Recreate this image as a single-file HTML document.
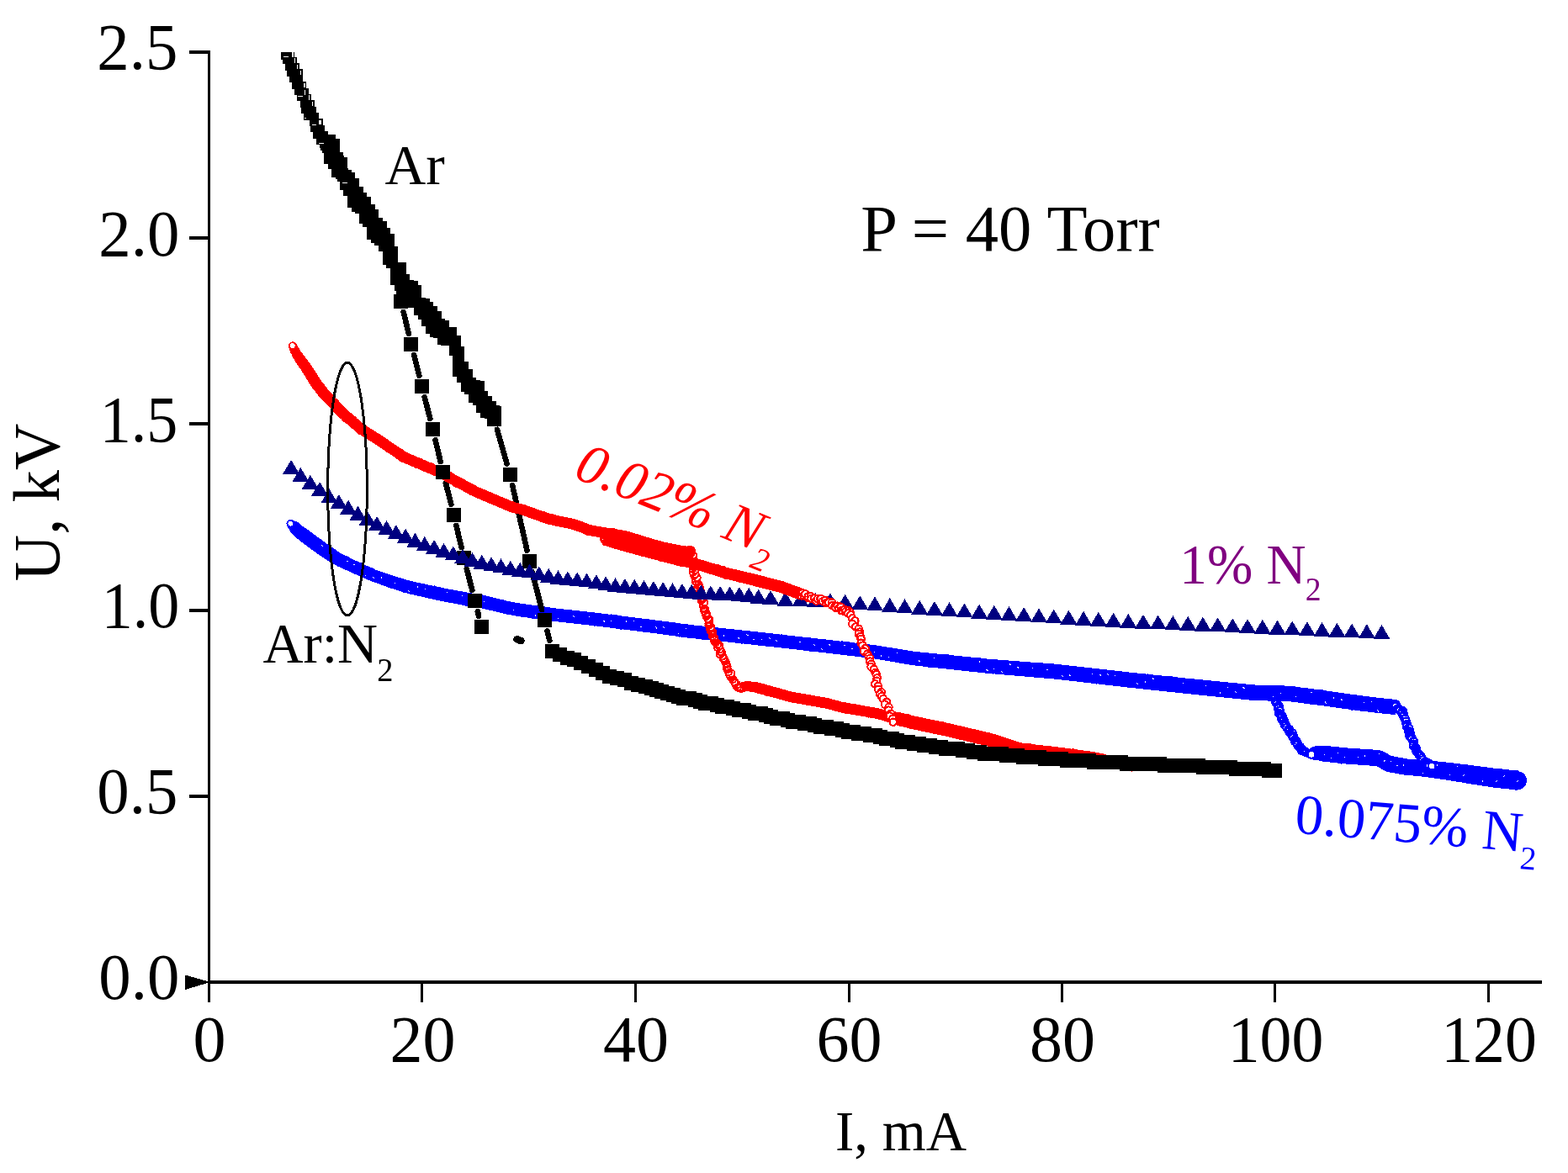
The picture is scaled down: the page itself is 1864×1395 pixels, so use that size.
<!DOCTYPE html>
<html lang="en"><head><meta charset="utf-8"><title>U(I) characteristics, P = 40 Torr</title>
<style>html,body{margin:0;padding:0;background:#fff}svg{display:block}text{font-family:"Liberation Serif",serif;}</style></head><body>
<svg width="1864" height="1395" viewBox="0 0 1864 1395" role="img" aria-label="Voltage versus current, P = 40 Torr">
<rect width="1864" height="1395" fill="#fff"/>
<g shape-rendering="crispEdges">
<g id="blue">
<path fill="#00f" d="M341.8 626.4L343.3 629.1L344.9 631.9L346.6 634.4L349 636.8L351.6 639L353.9 640.9L356.2 642.9L358.6 644.8L361.1 646.6L363.5 648.4L366 650.2L368.4 652L370.8 653.7L373.2 655.5L375.6 657.3L378.1 659.1L380.7 660.9L383.3 662.6L385.9 664.2L388.4 665.8L390.9 667.4L393.5 669L396.5 670.9L399.7 672.3L402.4 673.6L405.1 674.9L407.8 676.2L410.5 677.5L413.2 678.8L416 680.1L418.8 681.4L421.6 682.6L424.4 683.8L427.1 685L429.9 686.2L432.6 687.5L435.3 688.7L438.2 689.9L441.2 691.2L444.2 692.2L447.1 693.2L449.9 694.2L452.7 695.2L455.5 696.3L458.4 697.3L461.3 698.3L464.3 699.3L467.2 700.2L470 701.2L472.9 702.1L475.7 703L478.6 703.9L481.5 704.8L484.7 705.8L487.8 706.5L490.8 707.2L493.7 707.9L496.6 708.6L499.5 709.2L502.5 709.9L505.4 710.6L508.4 711.3L511.3 711.9L514.2 712.6L517.2 713.2L520.1 713.9L523 714.5L526 715.1L529.1 715.7L532.1 716.3L535 716.8L538 717.4L540.9 717.9L543.9 718.5L546.8 719L549.9 719.6L552.9 720.1L555.9 720.5L558.8 721L561.8 721.5L564.7 722L567.7 722.4L570.4 722.9L573 723.5L575.9 724.2L578.8 724.9L581.7 725.6L584.7 726.3L587.6 727L590.5 727.7L593.4 728.4L596.4 729.1L599.5 729.8L602.5 730.5L605.4 731L608.4 731.6L611.4 732.2L614.6 732.8L617.7 733.3L620.7 733.7L623.6 734.1L626.6 734.5L629.6 734.9L632.6 735.3L635.5 735.7L638.5 736.2L641.5 736.6L644.4 737L647.4 737.4L650.4 737.8L653.3 738.2L656.4 738.7L659.5 739L662.5 739.4L665.5 739.7L668.5 740L671.5 740.3L674.4 740.7L677.4 741L680.4 741.3L683.4 741.6L686.4 742L689.4 742.3L692.3 742.6L695.3 742.9L698.3 743.3L701.2 743.6L704.1 744L707.1 744.3L710.1 744.7L713.1 745.1L716.1 745.4L719 745.8L722 746.2L725 746.5L728 746.9L730.9 747.3L733.9 747.7L736.9 748L739.9 748.4L742.8 748.8L745.8 749.1L748.8 749.5L751.8 749.9L754.7 750.2L757.7 750.6L760.7 751L763.7 751.4L766.7 751.7L769.6 752.1L772.6 752.5L775.6 752.9L778.6 753.2L781.5 753.6L784.5 754L787.5 754.3L790.5 754.7L793.4 755.1L796.4 755.5L799.2 755.8L802 756.3L805 756.8L808 757.3L811.2 757.8L814.4 758.1L817.3 758.5L820.3 758.8L823.3 759.1L826.3 759.4L829.3 759.7L832.3 760L835.2 760.4L838.2 760.7L841.2 761L844.2 761.3L847.2 761.6L850.2 761.9L853.1 762.3L856.1 762.6L859.1 762.9L862.1 763.2L865.1 763.5L868.1 763.8L871 764.2L874 764.5L877 764.8L880 765.1L883 765.4L886 765.7L888.9 766.1L891.9 766.4L894.9 766.7L897.9 767L900.8 767.3L903.8 767.7L906.8 768L909.8 768.4L912.7 768.7L915.7 769L918.7 769.4L921.7 769.7L924.7 770L927.7 770.4L930.6 770.7L933.6 771.1L936.6 771.4L939.6 771.7L942.6 772.1L945.5 772.4L948.5 772.7L951.5 773.1L954.5 773.4L957.5 773.7L960.4 774.1L963.4 774.4L966.4 774.8L969.4 775.1L972.4 775.4L975.3 775.8L978.3 776.1L981.3 776.4L984.3 776.8L987.2 777.1L990.2 777.5L993.2 777.8L996.2 778.2L999.2 778.5L1002.1 778.9L1005.1 779.2L1008.1 779.6L1011.1 779.9L1014.1 780.3L1017 780.7L1020 781L1023 781.4L1026 781.7L1029 782.1L1031.9 782.4L1034.9 782.8L1037.8 783.1L1040.5 783.6L1043.4 784.1L1046.4 784.6L1049.3 785.1L1052.3 785.6L1055.2 786.1L1058.2 786.6L1061.2 787.1L1064.1 787.6L1067.1 788.1L1070 788.6L1073 789.1L1075.9 789.6L1078.9 790.1L1081.9 790.7L1085.1 791.2L1088.3 791.5L1091.3 791.9L1094.3 792.2L1097.2 792.5L1100.2 792.8L1103.2 793.2L1106.2 793.5L1109.2 793.8L1112.2 794.1L1115.1 794.5L1118.1 794.8L1121.1 795.1L1124.1 795.4L1127.1 795.8L1130 796.1L1133 796.4L1136 796.7L1139 797.1L1142 797.4L1145 797.7L1147.9 798L1150.9 798.3L1153.9 798.7L1156.9 799L1159.9 799.3L1162.9 799.6L1165.8 800L1168.8 800.3L1171.9 800.6L1175 800.9L1178 801.1L1181 801.4L1184 801.6L1186.9 801.9L1189.9 802.2L1192.9 802.4L1195.9 802.7L1198.9 802.9L1201.9 803.2L1204.9 803.4L1207.9 803.7L1210.9 803.9L1213.8 804.2L1216.8 804.4L1219.8 804.7L1222.8 805L1225.8 805.2L1228.8 805.5L1231.8 805.7L1234.8 806L1237.8 806.2L1240.8 806.5L1243.7 806.7L1246.7 807L1249.7 807.3L1252.7 807.5L1255.6 807.7L1258.5 808L1261.4 808.4L1264.4 808.7L1267.3 809.1L1270.3 809.4L1273.3 809.7L1276.3 810.1L1279.3 810.4L1282.2 810.8L1285.2 811.1L1288.2 811.5L1291.2 811.8L1294.2 812.2L1297.1 812.5L1300.1 812.8L1303.1 813.2L1306.1 813.5L1309.1 813.9L1312 814.2L1315 814.6L1318 814.9L1321 815.3L1324 815.6L1326.9 815.9L1329.9 816.3L1332.9 816.6L1335.9 817L1338.9 817.3L1341.9 817.7L1344.9 818L1347.9 818.3L1350.9 818.6L1353.8 819L1356.8 819.3L1359.8 819.6L1362.8 819.9L1365.8 820.2L1368.8 820.6L1371.7 820.9L1374.7 821.2L1377.7 821.5L1380.7 821.8L1383.7 822.1L1386.7 822.5L1389.6 822.8L1392.6 823.1L1395.6 823.4L1398.6 823.7L1401.6 824.1L1404.6 824.4L1407.6 824.7L1410.6 825L1413.6 825.3L1416.5 825.6L1419.5 825.9L1422.5 826.2L1425.5 826.5L1428.5 826.8L1431.5 827.1L1434.4 827.4L1437.4 827.7L1440.4 828L1443.4 828.3L1446.4 828.6L1449.4 828.9L1452.4 829.2L1455.4 829.5L1458.3 829.8L1461.3 830.1L1464.3 830.4L1467.3 830.7L1470.3 831L1473.3 831.3L1476.3 831.6L1479.2 831.9L1482.2 832.2L1485.2 832.5L1488.4 832.9L1491.7 833L1494.8 833.1L1497.8 833.2L1500.8 833.3L1503.8 833.4L1506.8 833.5L1509.8 833.6L1512.8 833.7L1515.8 833.8L1518.8 833.8L1521.8 833.9L1524.8 834L1527.8 834.1L1530.6 834.2L1533.2 834.3L1535.9 834.7L1538.8 835.1L1541.8 835.4L1544.8 835.8L1547.8 836.2L1550.7 836.6L1553.7 837L1556.7 837.4L1559.7 837.7L1562.6 838.1L1565.6 838.5L1568.6 838.9L1571.6 839.3L1574.5 839.6L1577.4 840L1580.4 840.4L1583.4 840.9L1586.3 841.3L1589.3 841.7L1592.3 842.1L1595.3 842.5L1598.2 842.9L1601.2 843.3L1604.2 843.7L1607.1 844.1L1610.1 844.5L1613.1 844.9L1616.1 845.4L1619.2 845.8L1622.2 846.1L1625.2 846.4L1628.2 846.8L1631.2 847.1L1634.2 847.5L1637.1 847.8L1640.1 848.1L1643.1 848.5L1646.1 848.8L1649.2 849.2L1652.3 849.4L1655.4 849.7L1658.4 849.9L1659.3 850L1660.7 832L1659.8 832L1656.8 831.7L1653.8 831.5L1651 831.2L1648.1 830.9L1645.2 830.5L1642.2 830.2L1639.2 829.8L1636.2 829.5L1633.3 829.1L1630.3 828.8L1627.3 828.4L1624.3 828.1L1621.4 827.7L1618.5 827.4L1615.6 827L1612.6 826.5L1609.7 826.1L1606.7 825.7L1603.7 825.3L1600.7 824.9L1597.8 824.4L1594.8 824L1591.8 823.6L1588.9 823.2L1585.9 822.8L1582.9 822.3L1580 821.9L1576.9 821.5L1573.9 821.1L1571 820.7L1568 820.3L1565 819.9L1562 819.5L1559.1 819.1L1556.1 818.7L1553.1 818.3L1550.1 817.9L1547.2 817.6L1544.2 817.2L1541.2 816.8L1538.2 816.4L1535 815.9L1531.5 815.7L1528.4 815.6L1525.4 815.5L1522.4 815.4L1519.4 815.3L1516.4 815.2L1513.4 815.1L1510.4 815L1507.4 814.9L1504.4 814.8L1501.4 814.7L1498.4 814.7L1495.4 814.6L1492.5 814.5L1489.8 814.4L1487 814.1L1484 813.8L1481.1 813.5L1478.1 813.2L1475.1 812.9L1472.1 812.6L1469.1 812.3L1466.1 812L1463.1 811.8L1460.2 811.5L1457.2 811.2L1454.2 810.9L1451.2 810.6L1448.2 810.3L1445.2 810L1442.3 809.7L1439.3 809.4L1436.3 809.1L1433.3 808.8L1430.3 808.5L1427.3 808.2L1424.4 807.9L1421.4 807.6L1418.4 807.3L1415.4 807L1412.4 806.8L1409.4 806.5L1406.4 806.2L1403.5 805.9L1400.5 805.6L1397.5 805.3L1394.5 804.9L1391.6 804.6L1388.6 804.3L1385.6 804L1382.6 803.7L1379.6 803.4L1376.6 803.1L1373.7 802.8L1370.7 802.5L1367.7 802.2L1364.7 801.8L1361.7 801.5L1358.7 801.2L1355.7 800.9L1352.8 800.6L1349.8 800.3L1346.8 800L1343.9 799.7L1340.9 799.3L1337.9 799L1334.9 798.7L1332 798.3L1329 798L1326 797.7L1323 797.3L1320 797L1317.1 796.7L1314.1 796.3L1311.1 796L1308.1 795.7L1305.1 795.3L1302.2 795L1299.2 794.7L1296.2 794.3L1293.2 794L1290.2 793.7L1287.2 793.3L1284.3 793L1281.3 792.6L1278.3 792.3L1275.3 792L1272.3 791.6L1269.4 791.3L1266.4 791L1263.4 790.6L1260.3 790.3L1257.2 790L1254.2 789.8L1251.2 789.5L1248.2 789.3L1245.2 789L1242.2 788.8L1239.2 788.6L1236.2 788.4L1233.2 788.1L1230.2 787.9L1227.2 787.7L1224.2 787.4L1221.3 787.2L1218.3 787L1215.3 786.7L1212.3 786.5L1209.3 786.3L1206.3 786L1203.3 785.8L1200.3 785.6L1197.3 785.3L1194.3 785.1L1191.3 784.9L1188.3 784.7L1185.4 784.4L1182.4 784.2L1179.4 784L1176.4 783.7L1173.5 783.5L1170.6 783.2L1167.6 782.9L1164.6 782.6L1161.7 782.3L1158.7 782L1155.7 781.7L1152.7 781.4L1149.7 781.1L1146.7 780.8L1143.7 780.5L1140.8 780.2L1137.8 779.9L1134.8 779.6L1131.8 779.3L1128.8 779L1125.8 778.7L1122.8 778.4L1119.9 778.1L1116.9 777.8L1113.9 777.5L1110.9 777.2L1107.9 776.9L1104.9 776.6L1102 776.3L1099 776L1096 775.7L1093 775.4L1090 775.1L1087.3 774.8L1084.6 774.4L1081.6 773.9L1078.6 773.4L1075.7 773L1072.7 772.5L1069.8 772L1066.8 771.5L1063.8 771L1060.9 770.5L1057.9 770.1L1055 769.6L1052 769.1L1049 768.6L1046.1 768.1L1043 767.6L1039.9 767.2L1036.8 766.8L1033.8 766.5L1030.8 766.2L1027.8 765.8L1024.8 765.5L1021.9 765.2L1018.9 764.8L1015.9 764.5L1012.9 764.2L1009.9 763.8L1007 763.5L1004 763.2L1001 762.8L998 762.5L995 762.1L992 761.8L989.1 761.4L986.1 761.1L983.1 760.8L980.1 760.4L977.1 760.1L974.1 759.7L971.2 759.4L968.2 759.1L965.2 758.7L962.2 758.4L959.2 758.1L956.3 757.7L953.3 757.4L950.3 757.1L947.3 756.7L944.3 756.4L941.3 756.1L938.4 755.7L935.4 755.4L932.4 755L929.4 754.7L926.4 754.4L923.5 754L920.5 753.7L917.5 753.4L914.5 753L911.5 752.7L908.6 752.4L905.6 752L902.6 751.7L899.6 751.4L896.6 751L893.6 750.7L890.6 750.4L887.6 750.1L884.6 749.8L881.7 749.5L878.7 749.1L875.7 748.8L872.7 748.5L869.7 748.2L866.7 747.9L863.8 747.6L860.8 747.3L857.8 746.9L854.8 746.6L851.8 746.3L848.8 746L845.9 745.7L842.9 745.4L839.9 745L836.9 744.7L833.9 744.4L830.9 744.1L828 743.8L825 743.5L822 743.2L819 742.8L816 742.5L813.3 742.2L810.5 741.8L807.6 741.3L804.6 740.8L801.5 740.3L798.4 739.9L795.4 739.5L792.4 739.1L789.4 738.8L786.5 738.4L783.5 738L780.5 737.7L777.5 737.3L774.6 736.9L771.6 736.5L768.6 736.2L765.6 735.8L762.6 735.4L759.7 735.1L756.7 734.7L753.7 734.3L750.7 733.9L747.8 733.6L744.8 733.2L741.8 732.8L738.8 732.5L735.8 732.1L732.9 731.7L729.9 731.4L726.9 731L723.9 730.6L721 730.3L718 729.9L715 729.5L712 729.2L709 728.8L706.1 728.4L703.1 728.1L700 727.7L697 727.4L694 727.1L691.1 726.7L688.1 726.4L685.1 726.1L682.1 725.8L679.1 725.4L676.1 725.1L673.2 724.8L670.2 724.5L667.2 724.1L664.2 723.8L661.3 723.5L658.4 723.2L655.5 722.8L652.5 722.3L649.6 721.9L646.6 721.5L643.6 721.1L640.7 720.7L637.7 720.3L634.7 719.9L631.7 719.5L628.8 719L625.8 718.6L622.8 718.2L619.9 717.8L617 717.4L614.3 716.9L611.4 716.3L608.5 715.7L605.6 715.2L602.7 714.6L599.9 714L597.1 713.3L594.2 712.5L591.3 711.8L588.3 711.1L585.4 710.4L582.5 709.7L579.6 709L576.7 708.3L573.5 707.5L570.2 707L567.3 706.5L564.3 706L561.3 705.5L558.4 705L555.4 704.5L552.5 704.1L549.7 703.5L546.7 703L543.8 702.4L540.8 701.9L537.9 701.3L534.9 700.8L532 700.2L529.2 699.7L526.3 699.1L523.4 698.4L520.5 697.8L517.5 697.2L514.6 696.6L511.6 696L508.7 695.4L505.8 694.8L502.9 694.1L500 693.5L497 692.9L494.1 692.3L491.2 691.6L488.5 691.1L485.9 690.3L483.1 689.5L480.2 688.6L477.3 687.7L474.5 686.9L471.6 686L468.8 685.1L466 684.3L463.3 683.3L460.5 682.4L457.6 681.4L454.8 680.4L452 679.4L449.1 678.4L446.5 677.5L444 676.4L441.4 675.2L438.6 673.9L435.9 672.7L433.2 671.5L430.4 670.2L427.7 669L425.1 667.8L422.5 666.5L419.8 665.2L417.1 663.9L414.4 662.6L411.7 661.2L409 659.9L406.3 658.6L404.1 657.4L402 656L399.6 654.3L397.2 652.6L394.7 650.9L392.2 649.2L389.9 647.6L387.6 645.9L385.2 644.2L382.8 642.4L380.4 640.6L377.9 638.9L375.5 637.1L373.1 635.3L370.7 633.6L368.3 631.9L366 630.1L363.6 628.4L361.1 626.7L359 625.2L357 623.5L354.4 621.8L351.6 620.4L348.8 619z"/>
<path fill="#00f" d="M1561.5 904.4L1564.4 903.8L1566.1 903.5L1567 904.1L1569.3 904.9L1572.2 905.5L1575.2 905.8L1578.2 906.2L1581.2 906.5L1584.2 906.8L1587.1 907.2L1590.1 907.5L1593.1 907.8L1596.2 908.2L1599.4 908.4L1602.4 908.6L1605.4 908.9L1608.4 909.1L1611.4 909.3L1614.4 909.5L1617.4 909.7L1620.4 910L1623.4 910.2L1626.3 910.4L1629.2 910.6L1632.1 910.9L1635.1 911.2L1636.7 911.3L1637.5 911.7L1639.4 912.8L1642 914.4L1645.1 916.1L1649.4 918L1653.5 918.8L1656.5 919.3L1659.4 919.8L1662.4 920.3L1665.3 920.9L1668.3 921.4L1671.7 922L1675.2 922.2L1678.2 922.4L1681.2 922.6L1684.2 922.9L1687.1 923.1L1689.8 923.3L1692.6 923.7L1695.6 924.2L1698.6 924.6L1701.5 925L1704.5 925.5L1707.5 925.9L1710.4 926.3L1713.4 926.8L1716.4 927.2L1719.4 927.6L1722.2 928L1725.1 928.5L1728 929L1731 929.5L1733.9 929.9L1736.9 930.4L1739.8 930.9L1742.8 931.4L1745.8 931.9L1748.7 932.4L1751.7 932.8L1754.7 933.3L1757.6 933.8L1760.6 934.3L1763.5 934.7L1766.5 935.2L1769.5 935.6L1772.4 936.1L1775.4 936.5L1778.7 937L1782 937.3L1784.9 937.6L1787.9 937.9L1790.9 938.2L1793.9 938.5L1796.9 938.8L1799.9 939L1802.9 939.3L1803.9 939.4L1806.1 916.6L1805 916.5L1802 916.2L1799 915.9L1796 915.7L1793 915.4L1790 915.2L1787 914.9L1784 914.6L1781.3 914.4L1778.7 914L1775.7 913.6L1772.7 913.2L1769.7 912.8L1766.8 912.4L1763.8 912L1760.8 911.6L1757.9 911.2L1754.9 910.8L1751.9 910.5L1748.9 910.1L1745.9 909.7L1743 909.3L1740 909L1737 908.6L1734 908.2L1731.1 907.8L1728.1 907.5L1725 907.1L1721.9 906.8L1718.9 906.5L1715.9 906.2L1712.9 905.9L1709.9 905.6L1706.9 905.3L1703.9 905L1701 904.8L1698 904.5L1695 904.2L1691.8 903.9L1688.6 903.6L1685.5 903.4L1682.5 903.2L1679.5 903L1676.5 902.8L1674 902.7L1671.6 902.2L1668.6 901.7L1665.7 901.2L1662.7 900.7L1659.7 900.2L1656.8 899.7L1655 899.5L1653.9 898.9L1651.8 897.7L1649.2 896.2L1646 894.3L1641.3 892.5L1636.9 892L1634 891.7L1630.8 891.4L1627.7 891.2L1624.7 891L1621.7 890.8L1618.7 890.6L1615.7 890.4L1612.8 890.2L1609.8 890L1606.8 889.8L1603.8 889.6L1600.8 889.4L1598 889.1L1595.2 888.8L1592.2 888.5L1589.2 888.2L1586.2 887.9L1583.2 887.6L1580.2 887.3L1577.3 886.9L1574.3 886.6L1571.3 886.6L1567.5 886.8L1562.6 887.6L1558.7 889.6L1556.1 891.2z"/>
<circle cx="1804" cy="928.3" r="11" fill="#00f"/>
<g fill="none" stroke="#00f" stroke-width="2">
<circle cx="345.9" cy="622.9" r="3.9"/><circle cx="346.6" cy="624.5" r="3.9"/><circle cx="347.5" cy="625" r="3.9"/><circle cx="349.9" cy="624.4" r="3.9"/><circle cx="351.4" cy="625.2" r="3.9"/><circle cx="353" cy="626.4" r="3.9"/><circle cx="351.8" cy="628.2" r="3.9"/><circle cx="354.9" cy="628.5" r="3.9"/><circle cx="352.9" cy="631.2" r="3.9"/><circle cx="355" cy="632.4" r="3.9"/><circle cx="354.9" cy="635.9" r="3.9"/><circle cx="356.2" cy="636" r="3.9"/><circle cx="360.8" cy="633" r="3.9"/><circle cx="360.4" cy="634.2" r="3.9"/><circle cx="362.5" cy="634.5" r="3.9"/><circle cx="361.8" cy="638.4" r="3.9"/><circle cx="363.8" cy="639" r="3.9"/><circle cx="367" cy="636.8" r="3.9"/><circle cx="365.2" cy="641.3" r="3.9"/><circle cx="367.8" cy="639.8" r="3.9"/><circle cx="368.8" cy="641.8" r="3.9"/><circle cx="367.9" cy="644.4" r="3.9"/><circle cx="371.8" cy="642" r="3.9"/><circle cx="371.3" cy="644.3" r="3.9"/><circle cx="372.4" cy="647" r="3.9"/><circle cx="372.7" cy="649.6" r="3.9"/><circle cx="375.6" cy="646.4" r="3.9"/><circle cx="378.4" cy="645.9" r="3.9"/><circle cx="379.8" cy="646" r="3.9"/><circle cx="377.9" cy="651.4" r="3.9"/><circle cx="379" cy="653.2" r="3.9"/><circle cx="380.6" cy="652.7" r="3.9"/><circle cx="382.5" cy="653" r="3.9"/><circle cx="382" cy="655.1" r="3.9"/><circle cx="385.2" cy="653.9" r="3.9"/><circle cx="388.1" cy="652.1" r="3.9"/><circle cx="386.5" cy="656.4" r="3.9"/><circle cx="388" cy="658.9" r="3.9"/><circle cx="390.5" cy="656.7" r="3.9"/><circle cx="393.5" cy="655.5" r="3.9"/><circle cx="394.6" cy="657.6" r="3.9"/><circle cx="395.4" cy="657.2" r="3.9"/><circle cx="397.1" cy="658.9" r="3.9"/><circle cx="396.5" cy="660.7" r="3.9"/><circle cx="399.5" cy="660.1" r="3.9"/><circle cx="398.3" cy="663.3" r="3.9"/><circle cx="398.7" cy="665.8" r="3.9"/><circle cx="402.4" cy="663.5" r="3.9"/><circle cx="402.9" cy="664.3" r="3.9"/><circle cx="403.5" cy="669.1" r="3.9"/><circle cx="407" cy="665" r="3.9"/><circle cx="407.8" cy="665.8" r="3.9"/><circle cx="408.5" cy="668.8" r="3.9"/><circle cx="411.3" cy="665.9" r="3.9"/><circle cx="411.4" cy="668.6" r="3.9"/><circle cx="410.9" cy="672.5" r="3.9"/><circle cx="413.6" cy="670.7" r="3.9"/><circle cx="415.3" cy="672.7" r="3.9"/><circle cx="415" cy="674.1" r="3.9"/><circle cx="416.4" cy="674.6" r="3.9"/><circle cx="419.7" cy="672.7" r="3.9"/><circle cx="421.5" cy="671.6" r="3.9"/><circle cx="423.7" cy="672.3" r="3.9"/><circle cx="424.5" cy="673.7" r="3.9"/><circle cx="425.7" cy="675.2" r="3.9"/><circle cx="427.8" cy="673.8" r="3.9"/><circle cx="428.6" cy="674.8" r="3.9"/><circle cx="429.4" cy="674.7" r="3.9"/><circle cx="430.4" cy="679.1" r="3.9"/><circle cx="432.4" cy="677.6" r="3.9"/><circle cx="433.8" cy="679" r="3.9"/><circle cx="432.6" cy="681.7" r="3.9"/><circle cx="435.7" cy="680.5" r="3.9"/><circle cx="438.6" cy="679.2" r="3.9"/><circle cx="439.1" cy="681.2" r="3.9"/><circle cx="439.4" cy="684.6" r="3.9"/><circle cx="441.6" cy="680.2" r="3.9"/><circle cx="442.9" cy="684.1" r="3.9"/><circle cx="444.5" cy="684.8" r="3.9"/><circle cx="444.5" cy="684.7" r="3.9"/><circle cx="445.7" cy="687.3" r="3.9"/><circle cx="448.8" cy="684.5" r="3.9"/><circle cx="449.8" cy="684.3" r="3.9"/><circle cx="450.4" cy="686.8" r="3.9"/><circle cx="453.1" cy="686.5" r="3.9"/><circle cx="452.4" cy="689.3" r="3.9"/><circle cx="454" cy="690.2" r="3.9"/><circle cx="455.6" cy="690.5" r="3.9"/><circle cx="458.5" cy="687.7" r="3.9"/><circle cx="460.4" cy="689.2" r="3.9"/><circle cx="462.1" cy="687.7" r="3.9"/><circle cx="462.5" cy="689.3" r="3.9"/><circle cx="462.8" cy="694" r="3.9"/><circle cx="463.5" cy="694.1" r="3.9"/><circle cx="465.9" cy="695" r="3.9"/><circle cx="468.9" cy="691.1" r="3.9"/><circle cx="470.4" cy="691.4" r="3.9"/><circle cx="470" cy="694.1" r="3.9"/><circle cx="471.6" cy="696.1" r="3.9"/><circle cx="472.9" cy="695.3" r="3.9"/><circle cx="475.7" cy="692.3" r="3.9"/><circle cx="475.3" cy="697.7" r="3.9"/><circle cx="477.5" cy="697.4" r="3.9"/><circle cx="479.6" cy="694.1" r="3.9"/><circle cx="480.7" cy="695.5" r="3.9"/><circle cx="481.5" cy="700.1" r="3.9"/><circle cx="483.2" cy="696.8" r="3.9"/><circle cx="485.2" cy="699.6" r="3.9"/><circle cx="487.7" cy="696.2" r="3.9"/><circle cx="487" cy="701.3" r="3.9"/><circle cx="489.5" cy="696.7" r="3.9"/><circle cx="490" cy="702.5" r="3.9"/><circle cx="492.6" cy="698.7" r="3.9"/><circle cx="495.2" cy="697.8" r="3.9"/><circle cx="494.4" cy="703.5" r="3.9"/><circle cx="496.1" cy="700.7" r="3.9"/><circle cx="497.8" cy="700.5" r="3.9"/><circle cx="499.7" cy="703.7" r="3.9"/><circle cx="501.9" cy="700.1" r="3.9"/><circle cx="502.9" cy="700.2" r="3.9"/><circle cx="504.6" cy="700.8" r="3.9"/><circle cx="505.5" cy="700" r="3.9"/><circle cx="507.4" cy="702" r="3.9"/><circle cx="507.8" cy="703.8" r="3.9"/><circle cx="509.5" cy="703" r="3.9"/><circle cx="511.4" cy="704" r="3.9"/><circle cx="513.7" cy="704.6" r="3.9"/><circle cx="515" cy="704.3" r="3.9"/><circle cx="516.1" cy="701.3" r="3.9"/><circle cx="517.9" cy="702.9" r="3.9"/><circle cx="518.4" cy="707.1" r="3.9"/><circle cx="520.5" cy="704.6" r="3.9"/><circle cx="521.2" cy="706.4" r="3.9"/><circle cx="523.7" cy="703.7" r="3.9"/><circle cx="525.4" cy="705.1" r="3.9"/><circle cx="525.7" cy="709" r="3.9"/><circle cx="527.1" cy="707.7" r="3.9"/><circle cx="528.6" cy="710.6" r="3.9"/><circle cx="530.4" cy="708.8" r="3.9"/><circle cx="531.7" cy="708.3" r="3.9"/><circle cx="533.5" cy="708.2" r="3.9"/><circle cx="534.3" cy="708.5" r="3.9"/><circle cx="535.6" cy="710.4" r="3.9"/><circle cx="537.7" cy="712.5" r="3.9"/><circle cx="538.6" cy="709.9" r="3.9"/><circle cx="541" cy="712.4" r="3.9"/><circle cx="542.9" cy="707.5" r="3.9"/><circle cx="544.8" cy="707.5" r="3.9"/><circle cx="545.6" cy="707.7" r="3.9"/><circle cx="545.8" cy="712.9" r="3.9"/><circle cx="548.4" cy="708.8" r="3.9"/><circle cx="550.1" cy="712.8" r="3.9"/><circle cx="550" cy="714.4" r="3.9"/><circle cx="552.3" cy="710" r="3.9"/><circle cx="554.3" cy="711.6" r="3.9"/><circle cx="554.6" cy="715.9" r="3.9"/><circle cx="557.6" cy="710.4" r="3.9"/><circle cx="558.8" cy="713.2" r="3.9"/><circle cx="560.7" cy="711.2" r="3.9"/><circle cx="562.1" cy="715.2" r="3.9"/><circle cx="563.1" cy="714.1" r="3.9"/><circle cx="565.3" cy="710.7" r="3.9"/><circle cx="565.8" cy="715.1" r="3.9"/><circle cx="567.2" cy="711.3" r="3.9"/><circle cx="567.9" cy="716.6" r="3.9"/><circle cx="571.3" cy="712.2" r="3.9"/><circle cx="572.1" cy="711.9" r="3.9"/><circle cx="574.3" cy="714.1" r="3.9"/><circle cx="574.3" cy="715.2" r="3.9"/><circle cx="576.1" cy="718.5" r="3.9"/><circle cx="577.7" cy="714" r="3.9"/><circle cx="578.8" cy="717.4" r="3.9"/><circle cx="582" cy="714.7" r="3.9"/><circle cx="581.9" cy="719" r="3.9"/><circle cx="583.6" cy="714.9" r="3.9"/><circle cx="584.3" cy="719.2" r="3.9"/><circle cx="586.6" cy="715.7" r="3.9"/><circle cx="588.1" cy="716" r="3.9"/><circle cx="589.7" cy="719.2" r="3.9"/><circle cx="590.1" cy="720" r="3.9"/><circle cx="593.3" cy="718.7" r="3.9"/><circle cx="594.2" cy="720.8" r="3.9"/><circle cx="596.4" cy="718.3" r="3.9"/><circle cx="597.9" cy="718.2" r="3.9"/><circle cx="598.8" cy="720.3" r="3.9"/><circle cx="599.5" cy="723.8" r="3.9"/><circle cx="601.6" cy="722.3" r="3.9"/><circle cx="603.5" cy="721.6" r="3.9"/><circle cx="605.1" cy="721.2" r="3.9"/><circle cx="605.1" cy="724.7" r="3.9"/><circle cx="607.4" cy="721.3" r="3.9"/><circle cx="608.5" cy="726.8" r="3.9"/><circle cx="609.6" cy="726.2" r="3.9"/><circle cx="610.9" cy="724.1" r="3.9"/><circle cx="613" cy="723.8" r="3.9"/><circle cx="613.3" cy="726" r="3.9"/><circle cx="615.4" cy="723.9" r="3.9"/><circle cx="616.9" cy="726.7" r="3.9"/><circle cx="619.1" cy="724.9" r="3.9"/><circle cx="621.3" cy="722.7" r="3.9"/><circle cx="621.8" cy="722.9" r="3.9"/><circle cx="624" cy="724.5" r="3.9"/><circle cx="624.6" cy="723.4" r="3.9"/><circle cx="625.6" cy="729.1" r="3.9"/><circle cx="628.3" cy="725.3" r="3.9"/><circle cx="629.4" cy="725.5" r="3.9"/><circle cx="631.1" cy="724.8" r="3.9"/><circle cx="631.6" cy="725.6" r="3.9"/><circle cx="633.1" cy="730.9" r="3.9"/><circle cx="634.6" cy="725.9" r="3.9"/><circle cx="637" cy="726.7" r="3.9"/><circle cx="638.8" cy="724.8" r="3.9"/><circle cx="639.6" cy="728.3" r="3.9"/><circle cx="641.3" cy="726.6" r="3.9"/><circle cx="643.4" cy="725.5" r="3.9"/><circle cx="644.6" cy="726.2" r="3.9"/><circle cx="646.7" cy="726.2" r="3.9"/><circle cx="647.6" cy="728.2" r="3.9"/><circle cx="648.4" cy="730.3" r="3.9"/><circle cx="649.5" cy="731.6" r="3.9"/><circle cx="650.6" cy="731.5" r="3.9"/><circle cx="653.3" cy="729.6" r="3.9"/><circle cx="654.5" cy="734" r="3.9"/><circle cx="655.5" cy="732.2" r="3.9"/><circle cx="657.3" cy="727.7" r="3.9"/><circle cx="658.4" cy="733.8" r="3.9"/><circle cx="659.7" cy="732.8" r="3.9"/><circle cx="662.1" cy="728.9" r="3.9"/><circle cx="662.8" cy="731.6" r="3.9"/><circle cx="664.1" cy="733.8" r="3.9"/><circle cx="665.7" cy="732.4" r="3.9"/><circle cx="667.4" cy="733.3" r="3.9"/><circle cx="670.3" cy="730.4" r="3.9"/><circle cx="671.3" cy="729.9" r="3.9"/><circle cx="672.1" cy="729.7" r="3.9"/><circle cx="673.6" cy="733.1" r="3.9"/><circle cx="674.9" cy="733.7" r="3.9"/><circle cx="677.6" cy="733.1" r="3.9"/><circle cx="677.7" cy="735.3" r="3.9"/><circle cx="679.7" cy="733.4" r="3.9"/><circle cx="681.8" cy="734.7" r="3.9"/><circle cx="683" cy="735.4" r="3.9"/><circle cx="684.9" cy="730.9" r="3.9"/><circle cx="686" cy="735.7" r="3.9"/><circle cx="686.3" cy="735.8" r="3.9"/><circle cx="688.9" cy="734.3" r="3.9"/><circle cx="689.9" cy="734.3" r="3.9"/><circle cx="691.3" cy="736.5" r="3.9"/><circle cx="693.7" cy="735.9" r="3.9"/><circle cx="695.3" cy="732.6" r="3.9"/><circle cx="696.3" cy="736.9" r="3.9"/><circle cx="698.4" cy="735.9" r="3.9"/><circle cx="699.9" cy="732.5" r="3.9"/><circle cx="700.2" cy="736.8" r="3.9"/><circle cx="702.3" cy="737.1" r="3.9"/><circle cx="703.7" cy="736.1" r="3.9"/><circle cx="705.7" cy="736" r="3.9"/><circle cx="706.7" cy="739.2" r="3.9"/><circle cx="707" cy="739.8" r="3.9"/><circle cx="710.1" cy="733.4" r="3.9"/><circle cx="710" cy="739.1" r="3.9"/><circle cx="713" cy="736.8" r="3.9"/><circle cx="713.6" cy="735.2" r="3.9"/><circle cx="715.6" cy="735.4" r="3.9"/><circle cx="717.3" cy="735.2" r="3.9"/><circle cx="718.7" cy="741.1" r="3.9"/><circle cx="719.7" cy="740.3" r="3.9"/><circle cx="720.8" cy="740.9" r="3.9"/><circle cx="722.6" cy="736.4" r="3.9"/><circle cx="725.2" cy="738.6" r="3.9"/><circle cx="726.4" cy="735.3" r="3.9"/><circle cx="727.8" cy="738.7" r="3.9"/><circle cx="729.5" cy="736.7" r="3.9"/><circle cx="730" cy="738" r="3.9"/><circle cx="731.9" cy="736" r="3.9"/><circle cx="733.7" cy="742.1" r="3.9"/><circle cx="734.2" cy="742.8" r="3.9"/><circle cx="736.4" cy="742.9" r="3.9"/><circle cx="738.1" cy="739.4" r="3.9"/><circle cx="738.8" cy="743.9" r="3.9"/><circle cx="741.1" cy="739.6" r="3.9"/><circle cx="743.2" cy="739.3" r="3.9"/><circle cx="743.6" cy="738.1" r="3.9"/><circle cx="744.8" cy="739.6" r="3.9"/><circle cx="747.4" cy="739.6" r="3.9"/><circle cx="748.8" cy="741.7" r="3.9"/><circle cx="749.2" cy="740.7" r="3.9"/><circle cx="750.4" cy="744.5" r="3.9"/><circle cx="752" cy="742.9" r="3.9"/><circle cx="753.8" cy="745.4" r="3.9"/><circle cx="756.2" cy="744.1" r="3.9"/><circle cx="757.1" cy="744.3" r="3.9"/><circle cx="758.2" cy="744.6" r="3.9"/><circle cx="761.1" cy="741.6" r="3.9"/><circle cx="761.9" cy="746.3" r="3.9"/><circle cx="763.4" cy="743.2" r="3.9"/><circle cx="764.4" cy="742.1" r="3.9"/><circle cx="766.1" cy="747.2" r="3.9"/><circle cx="767.8" cy="745.1" r="3.9"/><circle cx="769.2" cy="744.6" r="3.9"/><circle cx="771.4" cy="742.1" r="3.9"/><circle cx="771.7" cy="742.4" r="3.9"/><circle cx="774" cy="744.7" r="3.9"/><circle cx="773.9" cy="747.6" r="3.9"/><circle cx="777.2" cy="744.8" r="3.9"/><circle cx="779" cy="743.2" r="3.9"/><circle cx="780.3" cy="744.4" r="3.9"/><circle cx="781.6" cy="743.8" r="3.9"/><circle cx="781.8" cy="746.2" r="3.9"/><circle cx="783.9" cy="747.8" r="3.9"/><circle cx="785.5" cy="745.6" r="3.9"/><circle cx="787.3" cy="745.5" r="3.9"/><circle cx="789.2" cy="743.5" r="3.9"/><circle cx="790.1" cy="750.1" r="3.9"/><circle cx="791.2" cy="746.9" r="3.9"/><circle cx="793.1" cy="749.7" r="3.9"/><circle cx="795" cy="745.7" r="3.9"/><circle cx="796.1" cy="746.8" r="3.9"/><circle cx="796.4" cy="750.8" r="3.9"/><circle cx="799.3" cy="750.6" r="3.9"/><circle cx="800.5" cy="744.7" r="3.9"/><circle cx="801.4" cy="751.1" r="3.9"/><circle cx="804" cy="749.3" r="3.9"/><circle cx="804.3" cy="747.9" r="3.9"/><circle cx="805.3" cy="751.2" r="3.9"/><circle cx="807.6" cy="752.7" r="3.9"/><circle cx="810.3" cy="746.9" r="3.9"/><circle cx="810.4" cy="749.9" r="3.9"/><circle cx="811.4" cy="753.1" r="3.9"/><circle cx="813.2" cy="751.2" r="3.9"/><circle cx="815.1" cy="750" r="3.9"/><circle cx="816.6" cy="747.2" r="3.9"/><circle cx="817.7" cy="748.7" r="3.9"/><circle cx="819.9" cy="751.9" r="3.9"/><circle cx="821.8" cy="748.4" r="3.9"/><circle cx="822.2" cy="752.1" r="3.9"/><circle cx="825.1" cy="748.6" r="3.9"/><circle cx="825.5" cy="751.6" r="3.9"/><circle cx="827.7" cy="750.9" r="3.9"/><circle cx="829.3" cy="752.6" r="3.9"/><circle cx="830.3" cy="750.5" r="3.9"/><circle cx="831" cy="755.3" r="3.9"/><circle cx="832.8" cy="755" r="3.9"/><circle cx="835.2" cy="750.6" r="3.9"/><circle cx="835.4" cy="755.8" r="3.9"/><circle cx="838.5" cy="751.4" r="3.9"/><circle cx="838.8" cy="752.8" r="3.9"/><circle cx="841" cy="752.5" r="3.9"/><circle cx="841.2" cy="754.3" r="3.9"/><circle cx="844.5" cy="751.5" r="3.9"/><circle cx="845.3" cy="752.4" r="3.9"/><circle cx="846.9" cy="755" r="3.9"/><circle cx="847.4" cy="755.9" r="3.9"/><circle cx="850" cy="754.1" r="3.9"/><circle cx="850.9" cy="757.5" r="3.9"/><circle cx="852.7" cy="756.6" r="3.9"/><circle cx="853.8" cy="752.4" r="3.9"/><circle cx="854.9" cy="753.1" r="3.9"/><circle cx="857.5" cy="754.8" r="3.9"/><circle cx="858.8" cy="753" r="3.9"/><circle cx="859.1" cy="756.2" r="3.9"/><circle cx="861.9" cy="752.7" r="3.9"/><circle cx="862.4" cy="753.3" r="3.9"/><circle cx="865.4" cy="753.1" r="3.9"/><circle cx="866.4" cy="752.6" r="3.9"/><circle cx="866.5" cy="758.6" r="3.9"/><circle cx="867.9" cy="757.6" r="3.9"/><circle cx="870.3" cy="759.3" r="3.9"/><circle cx="871.4" cy="754" r="3.9"/><circle cx="873.9" cy="758.3" r="3.9"/><circle cx="874.9" cy="757.8" r="3.9"/><circle cx="876.7" cy="755.9" r="3.9"/><circle cx="878.9" cy="754.7" r="3.9"/><circle cx="879.7" cy="755.6" r="3.9"/><circle cx="881.1" cy="760.6" r="3.9"/><circle cx="882.4" cy="760.8" r="3.9"/><circle cx="883.4" cy="756.5" r="3.9"/><circle cx="885.2" cy="760.1" r="3.9"/><circle cx="887.2" cy="754.7" r="3.9"/><circle cx="887.7" cy="757.1" r="3.9"/><circle cx="890.2" cy="756.1" r="3.9"/><circle cx="891.7" cy="761.3" r="3.9"/><circle cx="892.3" cy="757.9" r="3.9"/><circle cx="894.8" cy="760.7" r="3.9"/><circle cx="896.8" cy="755.6" r="3.9"/><circle cx="897.3" cy="762" r="3.9"/><circle cx="897.9" cy="760.9" r="3.9"/><circle cx="900.7" cy="758.2" r="3.9"/><circle cx="901.2" cy="762.7" r="3.9"/><circle cx="903" cy="758" r="3.9"/><circle cx="905.2" cy="758.6" r="3.9"/><circle cx="906.2" cy="756.4" r="3.9"/><circle cx="907.1" cy="763.1" r="3.9"/><circle cx="909.6" cy="763.6" r="3.9"/><circle cx="910.9" cy="758.6" r="3.9"/><circle cx="911.1" cy="763.9" r="3.9"/><circle cx="914.1" cy="760.1" r="3.9"/><circle cx="915.2" cy="760.5" r="3.9"/><circle cx="916.8" cy="764.3" r="3.9"/><circle cx="917.5" cy="763.5" r="3.9"/><circle cx="918.9" cy="763.8" r="3.9"/><circle cx="921.3" cy="762.5" r="3.9"/><circle cx="922.9" cy="760.6" r="3.9"/><circle cx="924.5" cy="764.1" r="3.9"/><circle cx="925.4" cy="760" r="3.9"/><circle cx="927.9" cy="760.7" r="3.9"/><circle cx="928.8" cy="759.2" r="3.9"/><circle cx="929.4" cy="761.4" r="3.9"/><circle cx="930.4" cy="765.5" r="3.9"/><circle cx="933.9" cy="761.4" r="3.9"/><circle cx="934.8" cy="760.3" r="3.9"/><circle cx="935.9" cy="764.9" r="3.9"/><circle cx="937.8" cy="761.7" r="3.9"/><circle cx="938.6" cy="764.5" r="3.9"/><circle cx="939.7" cy="765.6" r="3.9"/><circle cx="942.4" cy="765.3" r="3.9"/><circle cx="943.5" cy="766.7" r="3.9"/><circle cx="945.1" cy="764.9" r="3.9"/><circle cx="946.7" cy="766.3" r="3.9"/><circle cx="948.5" cy="763" r="3.9"/><circle cx="949.1" cy="762.4" r="3.9"/><circle cx="951.1" cy="765.7" r="3.9"/><circle cx="951.7" cy="764.4" r="3.9"/><circle cx="954.3" cy="765.5" r="3.9"/><circle cx="954.9" cy="767.7" r="3.9"/><circle cx="957.1" cy="769.3" r="3.9"/><circle cx="957.9" cy="765.7" r="3.9"/><circle cx="958.9" cy="768.4" r="3.9"/><circle cx="962" cy="763" r="3.9"/><circle cx="963.6" cy="763.7" r="3.9"/><circle cx="963.8" cy="769.9" r="3.9"/><circle cx="965.7" cy="769.8" r="3.9"/><circle cx="967.1" cy="769.5" r="3.9"/><circle cx="968.5" cy="765.3" r="3.9"/><circle cx="970.5" cy="770.5" r="3.9"/><circle cx="971.5" cy="768.1" r="3.9"/><circle cx="973.7" cy="765.6" r="3.9"/><circle cx="975.5" cy="765.2" r="3.9"/><circle cx="976.3" cy="766.2" r="3.9"/><circle cx="978.1" cy="769.2" r="3.9"/><circle cx="979.9" cy="764.8" r="3.9"/><circle cx="981.1" cy="769.8" r="3.9"/><circle cx="982.8" cy="767.3" r="3.9"/><circle cx="983.4" cy="770.9" r="3.9"/><circle cx="986.2" cy="765.9" r="3.9"/><circle cx="986.7" cy="768.4" r="3.9"/><circle cx="988.7" cy="770.4" r="3.9"/><circle cx="989.6" cy="767" r="3.9"/><circle cx="991.6" cy="769" r="3.9"/><circle cx="992.1" cy="768.3" r="3.9"/><circle cx="994.2" cy="768.6" r="3.9"/><circle cx="995.9" cy="769.1" r="3.9"/><circle cx="996" cy="772.8" r="3.9"/><circle cx="999.2" cy="769.6" r="3.9"/><circle cx="1000.4" cy="772.4" r="3.9"/><circle cx="1001.3" cy="767.2" r="3.9"/><circle cx="1002.6" cy="770.4" r="3.9"/><circle cx="1004" cy="770.4" r="3.9"/><circle cx="1006.6" cy="771.1" r="3.9"/><circle cx="1007.9" cy="768" r="3.9"/><circle cx="1008.2" cy="772.6" r="3.9"/><circle cx="1010.7" cy="768.9" r="3.9"/><circle cx="1012.1" cy="771.1" r="3.9"/><circle cx="1014.1" cy="769.7" r="3.9"/><circle cx="1014.3" cy="772.5" r="3.9"/><circle cx="1016.8" cy="769.7" r="3.9"/><circle cx="1017" cy="774.9" r="3.9"/><circle cx="1020.3" cy="770.8" r="3.9"/><circle cx="1019.8" cy="776.2" r="3.9"/><circle cx="1023.2" cy="773.2" r="3.9"/><circle cx="1023.7" cy="776.6" r="3.9"/><circle cx="1024.9" cy="776.6" r="3.9"/><circle cx="1027.2" cy="776.2" r="3.9"/><circle cx="1028.6" cy="776.1" r="3.9"/><circle cx="1029.4" cy="773.4" r="3.9"/><circle cx="1031.6" cy="776.8" r="3.9"/><circle cx="1033.3" cy="772.4" r="3.9"/><circle cx="1034.5" cy="774.8" r="3.9"/><circle cx="1036.6" cy="772.1" r="3.9"/><circle cx="1036.5" cy="776.6" r="3.9"/><circle cx="1039.1" cy="771.7" r="3.9"/><circle cx="1040.8" cy="777.4" r="3.9"/><circle cx="1042" cy="778.2" r="3.9"/><circle cx="1043.1" cy="776.6" r="3.9"/><circle cx="1044.9" cy="777.1" r="3.9"/><circle cx="1046.2" cy="775.7" r="3.9"/><circle cx="1047.5" cy="776" r="3.9"/><circle cx="1049.3" cy="776.5" r="3.9"/><circle cx="1051.1" cy="773.5" r="3.9"/><circle cx="1052.6" cy="777.3" r="3.9"/><circle cx="1052.8" cy="779.5" r="3.9"/><circle cx="1055.7" cy="777.6" r="3.9"/><circle cx="1057.2" cy="778" r="3.9"/><circle cx="1058.6" cy="775.5" r="3.9"/><circle cx="1060.1" cy="775.5" r="3.9"/><circle cx="1061.7" cy="779" r="3.9"/><circle cx="1063" cy="780.2" r="3.9"/><circle cx="1063.2" cy="781" r="3.9"/><circle cx="1066.1" cy="779.8" r="3.9"/><circle cx="1067.1" cy="779.9" r="3.9"/><circle cx="1068.4" cy="783.6" r="3.9"/><circle cx="1068.7" cy="782.9" r="3.9"/><circle cx="1070.6" cy="782.2" r="3.9"/><circle cx="1072.5" cy="778.3" r="3.9"/><circle cx="1073.6" cy="780.9" r="3.9"/><circle cx="1075.8" cy="784.6" r="3.9"/><circle cx="1076.2" cy="783.7" r="3.9"/><circle cx="1079.6" cy="778.5" r="3.9"/><circle cx="1080.5" cy="784.1" r="3.9"/><circle cx="1081.6" cy="785.4" r="3.9"/><circle cx="1083.4" cy="785.1" r="3.9"/><circle cx="1084" cy="782.7" r="3.9"/><circle cx="1086.8" cy="780.8" r="3.9"/><circle cx="1087.9" cy="783.3" r="3.9"/><circle cx="1090" cy="779.7" r="3.9"/><circle cx="1090.2" cy="780.7" r="3.9"/><circle cx="1091.4" cy="785" r="3.9"/><circle cx="1093.4" cy="781.1" r="3.9"/><circle cx="1095.4" cy="780.9" r="3.9"/><circle cx="1096.7" cy="785.2" r="3.9"/><circle cx="1097.7" cy="787.2" r="3.9"/><circle cx="1098.9" cy="785" r="3.9"/><circle cx="1100.6" cy="781.3" r="3.9"/><circle cx="1102.6" cy="785.8" r="3.9"/><circle cx="1104.2" cy="787.3" r="3.9"/><circle cx="1105" cy="789" r="3.9"/><circle cx="1106.8" cy="784" r="3.9"/><circle cx="1109.1" cy="785" r="3.9"/><circle cx="1110.6" cy="787.5" r="3.9"/><circle cx="1111.7" cy="788.3" r="3.9"/><circle cx="1112.1" cy="786.9" r="3.9"/><circle cx="1114.2" cy="786.6" r="3.9"/><circle cx="1117" cy="784.7" r="3.9"/><circle cx="1118.5" cy="782.6" r="3.9"/><circle cx="1119" cy="787.4" r="3.9"/><circle cx="1119.8" cy="786.6" r="3.9"/><circle cx="1122.7" cy="783.8" r="3.9"/><circle cx="1124.1" cy="788.2" r="3.9"/><circle cx="1125.6" cy="783" r="3.9"/><circle cx="1127" cy="784" r="3.9"/><circle cx="1128" cy="785.1" r="3.9"/><circle cx="1129.8" cy="788.3" r="3.9"/><circle cx="1130.9" cy="788.7" r="3.9"/><circle cx="1132" cy="784.8" r="3.9"/><circle cx="1134.7" cy="786" r="3.9"/><circle cx="1135.5" cy="784.8" r="3.9"/><circle cx="1136.1" cy="791.3" r="3.9"/><circle cx="1138.8" cy="787.7" r="3.9"/><circle cx="1140.1" cy="784.6" r="3.9"/><circle cx="1141.6" cy="789.3" r="3.9"/><circle cx="1142.8" cy="790.2" r="3.9"/><circle cx="1143.6" cy="792.7" r="3.9"/><circle cx="1145.4" cy="787.1" r="3.9"/><circle cx="1147.7" cy="785.6" r="3.9"/><circle cx="1149.3" cy="788.8" r="3.9"/><circle cx="1150.3" cy="786" r="3.9"/><circle cx="1152.2" cy="785.8" r="3.9"/><circle cx="1153.5" cy="793.8" r="3.9"/><circle cx="1154.9" cy="787.7" r="3.9"/><circle cx="1156.1" cy="790.4" r="3.9"/><circle cx="1158" cy="793.2" r="3.9"/><circle cx="1159.8" cy="789.1" r="3.9"/><circle cx="1160.5" cy="786.9" r="3.9"/><circle cx="1161.7" cy="793.3" r="3.9"/><circle cx="1163.6" cy="786.9" r="3.9"/><circle cx="1165.1" cy="793.4" r="3.9"/><circle cx="1166.6" cy="793.5" r="3.9"/><circle cx="1169.1" cy="789.3" r="3.9"/><circle cx="1170.7" cy="789.6" r="3.9"/><circle cx="1170.9" cy="790.5" r="3.9"/><circle cx="1172" cy="793.7" r="3.9"/><circle cx="1174.4" cy="794" r="3.9"/><circle cx="1175.8" cy="792.8" r="3.9"/><circle cx="1176.9" cy="794.9" r="3.9"/><circle cx="1178.6" cy="790.5" r="3.9"/><circle cx="1180.3" cy="796.7" r="3.9"/><circle cx="1182.2" cy="796.1" r="3.9"/><circle cx="1183.8" cy="790.9" r="3.9"/><circle cx="1183.8" cy="795.1" r="3.9"/><circle cx="1186.3" cy="795.3" r="3.9"/><circle cx="1187.7" cy="796.6" r="3.9"/><circle cx="1188.7" cy="791.1" r="3.9"/><circle cx="1190.2" cy="794.6" r="3.9"/><circle cx="1191.3" cy="795" r="3.9"/><circle cx="1193.1" cy="793.5" r="3.9"/><circle cx="1194.4" cy="795.6" r="3.9"/><circle cx="1196.3" cy="793.4" r="3.9"/><circle cx="1198.4" cy="794.8" r="3.9"/><circle cx="1199.6" cy="791.7" r="3.9"/><circle cx="1200.8" cy="790.6" r="3.9"/><circle cx="1203.6" cy="791.4" r="3.9"/><circle cx="1203.7" cy="791.1" r="3.9"/><circle cx="1206.3" cy="793.4" r="3.9"/><circle cx="1208.2" cy="790.8" r="3.9"/><circle cx="1208.2" cy="796.7" r="3.9"/><circle cx="1209.6" cy="796.8" r="3.9"/><circle cx="1211.7" cy="791.4" r="3.9"/><circle cx="1212.7" cy="794.1" r="3.9"/><circle cx="1213.7" cy="798.3" r="3.9"/><circle cx="1215.8" cy="791.7" r="3.9"/><circle cx="1216.5" cy="799.3" r="3.9"/><circle cx="1219.8" cy="792.4" r="3.9"/><circle cx="1221.6" cy="792.5" r="3.9"/><circle cx="1221.3" cy="799.1" r="3.9"/><circle cx="1222.9" cy="797.4" r="3.9"/><circle cx="1225.3" cy="797.5" r="3.9"/><circle cx="1227.5" cy="792.9" r="3.9"/><circle cx="1228.3" cy="798.9" r="3.9"/><circle cx="1229.8" cy="795.1" r="3.9"/><circle cx="1231.7" cy="792.5" r="3.9"/><circle cx="1232.3" cy="794.9" r="3.9"/><circle cx="1234.4" cy="795.9" r="3.9"/><circle cx="1235.1" cy="801.4" r="3.9"/><circle cx="1236.5" cy="800.5" r="3.9"/><circle cx="1239" cy="793.2" r="3.9"/><circle cx="1239.6" cy="796.9" r="3.9"/><circle cx="1241.3" cy="796.2" r="3.9"/><circle cx="1243.4" cy="798.2" r="3.9"/><circle cx="1244.8" cy="801.3" r="3.9"/><circle cx="1246.2" cy="801" r="3.9"/><circle cx="1248.3" cy="793.6" r="3.9"/><circle cx="1248" cy="800.6" r="3.9"/><circle cx="1250.8" cy="793.8" r="3.9"/><circle cx="1251.5" cy="798.4" r="3.9"/><circle cx="1253.7" cy="795.7" r="3.9"/><circle cx="1254.5" cy="797.3" r="3.9"/><circle cx="1255.9" cy="796.6" r="3.9"/><circle cx="1258.6" cy="797.1" r="3.9"/><circle cx="1259.2" cy="801" r="3.9"/><circle cx="1261.1" cy="795.7" r="3.9"/><circle cx="1262.4" cy="795.6" r="3.9"/><circle cx="1263.2" cy="801.4" r="3.9"/><circle cx="1265.5" cy="801" r="3.9"/><circle cx="1267.1" cy="799.1" r="3.9"/><circle cx="1268.6" cy="803.8" r="3.9"/><circle cx="1270.2" cy="804" r="3.9"/><circle cx="1272" cy="797.9" r="3.9"/><circle cx="1272.4" cy="804.4" r="3.9"/><circle cx="1273.8" cy="799.7" r="3.9"/><circle cx="1276.1" cy="798.6" r="3.9"/><circle cx="1276.9" cy="801.4" r="3.9"/><circle cx="1278.3" cy="803.7" r="3.9"/><circle cx="1280.7" cy="800.2" r="3.9"/><circle cx="1281.6" cy="798.5" r="3.9"/><circle cx="1282.7" cy="803.3" r="3.9"/><circle cx="1285.2" cy="799" r="3.9"/><circle cx="1285.8" cy="804.7" r="3.9"/><circle cx="1288.2" cy="798.9" r="3.9"/><circle cx="1289.2" cy="806.2" r="3.9"/><circle cx="1291.3" cy="799.9" r="3.9"/><circle cx="1291.4" cy="804.7" r="3.9"/><circle cx="1294.6" cy="799.9" r="3.9"/><circle cx="1295.7" cy="800.9" r="3.9"/><circle cx="1297.2" cy="803.7" r="3.9"/><circle cx="1298.8" cy="802" r="3.9"/><circle cx="1298.8" cy="808.1" r="3.9"/><circle cx="1300.8" cy="800.1" r="3.9"/><circle cx="1303.2" cy="800.4" r="3.9"/><circle cx="1303.1" cy="808.7" r="3.9"/><circle cx="1305.5" cy="806.6" r="3.9"/><circle cx="1307.2" cy="801.7" r="3.9"/><circle cx="1309.5" cy="801.2" r="3.9"/><circle cx="1310.9" cy="804" r="3.9"/><circle cx="1311.2" cy="804.1" r="3.9"/><circle cx="1312.9" cy="807.1" r="3.9"/><circle cx="1314.5" cy="806.7" r="3.9"/><circle cx="1316.3" cy="802.2" r="3.9"/><circle cx="1317.2" cy="804.8" r="3.9"/><circle cx="1318.7" cy="809.8" r="3.9"/><circle cx="1320" cy="806.8" r="3.9"/><circle cx="1322.5" cy="805.6" r="3.9"/><circle cx="1322.6" cy="808.5" r="3.9"/><circle cx="1324.4" cy="809.2" r="3.9"/><circle cx="1325.8" cy="810.1" r="3.9"/><circle cx="1327.9" cy="808.3" r="3.9"/><circle cx="1329.4" cy="805.4" r="3.9"/><circle cx="1331.5" cy="803.5" r="3.9"/><circle cx="1331.8" cy="810.1" r="3.9"/><circle cx="1334.2" cy="808.9" r="3.9"/><circle cx="1335.6" cy="807.1" r="3.9"/><circle cx="1336.9" cy="809.2" r="3.9"/><circle cx="1337.5" cy="809.7" r="3.9"/><circle cx="1340" cy="805.3" r="3.9"/><circle cx="1341.3" cy="811.1" r="3.9"/><circle cx="1342.1" cy="808.5" r="3.9"/><circle cx="1344.8" cy="804.5" r="3.9"/><circle cx="1345.7" cy="805.7" r="3.9"/><circle cx="1346.9" cy="813.3" r="3.9"/><circle cx="1349.1" cy="805.5" r="3.9"/><circle cx="1349.9" cy="809.8" r="3.9"/><circle cx="1351.6" cy="809.7" r="3.9"/><circle cx="1352.9" cy="812.9" r="3.9"/><circle cx="1354.2" cy="809" r="3.9"/><circle cx="1356.3" cy="807.3" r="3.9"/><circle cx="1357.5" cy="809.2" r="3.9"/><circle cx="1358.9" cy="806.7" r="3.9"/><circle cx="1361.6" cy="809.3" r="3.9"/><circle cx="1362.6" cy="808.6" r="3.9"/><circle cx="1364.4" cy="806.3" r="3.9"/><circle cx="1365" cy="810.2" r="3.9"/><circle cx="1367.3" cy="809.8" r="3.9"/><circle cx="1368.1" cy="808.7" r="3.9"/><circle cx="1369.2" cy="815.7" r="3.9"/><circle cx="1371" cy="808.9" r="3.9"/><circle cx="1373.3" cy="810.8" r="3.9"/><circle cx="1374.1" cy="808.4" r="3.9"/><circle cx="1375.2" cy="815.1" r="3.9"/><circle cx="1377.1" cy="812" r="3.9"/><circle cx="1378.2" cy="809.8" r="3.9"/><circle cx="1380.1" cy="811.2" r="3.9"/><circle cx="1380.8" cy="815.8" r="3.9"/><circle cx="1383.5" cy="812.7" r="3.9"/><circle cx="1385.2" cy="813.6" r="3.9"/><circle cx="1386" cy="816.5" r="3.9"/><circle cx="1387.6" cy="816.8" r="3.9"/><circle cx="1389.6" cy="812.4" r="3.9"/><circle cx="1391.2" cy="813.1" r="3.9"/><circle cx="1392.2" cy="809.1" r="3.9"/><circle cx="1394.2" cy="812" r="3.9"/><circle cx="1395.3" cy="812.3" r="3.9"/><circle cx="1396.4" cy="813.6" r="3.9"/><circle cx="1398.1" cy="816.1" r="3.9"/><circle cx="1398.6" cy="818.7" r="3.9"/><circle cx="1401" cy="810.5" r="3.9"/><circle cx="1401.7" cy="818.8" r="3.9"/><circle cx="1403.9" cy="811.6" r="3.9"/><circle cx="1406.2" cy="816.6" r="3.9"/><circle cx="1406.8" cy="810.6" r="3.9"/><circle cx="1408.8" cy="817.1" r="3.9"/><circle cx="1411" cy="811.9" r="3.9"/><circle cx="1411.3" cy="813.2" r="3.9"/><circle cx="1413.7" cy="814.6" r="3.9"/><circle cx="1413.6" cy="820" r="3.9"/><circle cx="1415.7" cy="813" r="3.9"/><circle cx="1416.9" cy="817.5" r="3.9"/><circle cx="1418.2" cy="818.2" r="3.9"/><circle cx="1419.6" cy="819.5" r="3.9"/><circle cx="1421.9" cy="814" r="3.9"/><circle cx="1423" cy="817.3" r="3.9"/><circle cx="1424.4" cy="816.6" r="3.9"/><circle cx="1426.7" cy="817.9" r="3.9"/><circle cx="1428.7" cy="815" r="3.9"/><circle cx="1430.1" cy="817.7" r="3.9"/><circle cx="1431.5" cy="817.6" r="3.9"/><circle cx="1432.4" cy="817.9" r="3.9"/><circle cx="1433.3" cy="818.5" r="3.9"/><circle cx="1435.3" cy="813.4" r="3.9"/><circle cx="1436.8" cy="818.1" r="3.9"/><circle cx="1437.6" cy="820.1" r="3.9"/><circle cx="1440.1" cy="817.5" r="3.9"/><circle cx="1441.6" cy="823.4" r="3.9"/><circle cx="1442.5" cy="820.3" r="3.9"/><circle cx="1444.6" cy="814.6" r="3.9"/><circle cx="1445" cy="821" r="3.9"/><circle cx="1446.7" cy="817.7" r="3.9"/><circle cx="1448.8" cy="819.7" r="3.9"/><circle cx="1450.7" cy="823.7" r="3.9"/><circle cx="1451.4" cy="822" r="3.9"/><circle cx="1452.9" cy="818.4" r="3.9"/><circle cx="1454.9" cy="818.9" r="3.9"/><circle cx="1455.8" cy="820.6" r="3.9"/><circle cx="1458.1" cy="817.7" r="3.9"/><circle cx="1459.2" cy="819.9" r="3.9"/><circle cx="1460.8" cy="824" r="3.9"/><circle cx="1462.1" cy="824.2" r="3.9"/><circle cx="1464.1" cy="821.2" r="3.9"/><circle cx="1464.5" cy="821.2" r="3.9"/><circle cx="1466.1" cy="822.9" r="3.9"/><circle cx="1468.7" cy="819.9" r="3.9"/><circle cx="1469.8" cy="819.7" r="3.9"/><circle cx="1470.6" cy="823.1" r="3.9"/><circle cx="1472.8" cy="817.4" r="3.9"/><circle cx="1473.7" cy="825.9" r="3.9"/><circle cx="1476.4" cy="817.9" r="3.9"/><circle cx="1478.1" cy="817.6" r="3.9"/><circle cx="1478.1" cy="826.7" r="3.9"/><circle cx="1479.5" cy="824.2" r="3.9"/><circle cx="1481.1" cy="826.9" r="3.9"/><circle cx="1482.8" cy="824.2" r="3.9"/><circle cx="1484.3" cy="825.1" r="3.9"/><circle cx="1486.4" cy="825.2" r="3.9"/><circle cx="1487.5" cy="825.1" r="3.9"/><circle cx="1489.5" cy="826.3" r="3.9"/><circle cx="1491.5" cy="820.6" r="3.9"/><circle cx="1491.4" cy="826.5" r="3.9"/><circle cx="1493.8" cy="825.4" r="3.9"/><circle cx="1494.5" cy="827.1" r="3.9"/><circle cx="1497" cy="824.5" r="3.9"/><circle cx="1498.3" cy="822" r="3.9"/><circle cx="1499.8" cy="822.2" r="3.9"/><circle cx="1500.4" cy="825.4" r="3.9"/><circle cx="1502.6" cy="819.6" r="3.9"/><circle cx="1504.8" cy="819.5" r="3.9"/><circle cx="1505.4" cy="827.3" r="3.9"/><circle cx="1507.1" cy="828.4" r="3.9"/><circle cx="1508.9" cy="819.4" r="3.9"/><circle cx="1509.4" cy="825.2" r="3.9"/><circle cx="1511.5" cy="829.1" r="3.9"/><circle cx="1513.8" cy="823.5" r="3.9"/><circle cx="1515" cy="825.9" r="3.9"/><circle cx="1517" cy="821.1" r="3.9"/><circle cx="1517.4" cy="819.6" r="3.9"/><circle cx="1518.5" cy="820.8" r="3.9"/><circle cx="1520.1" cy="820.5" r="3.9"/><circle cx="1523" cy="821" r="3.9"/><circle cx="1523.9" cy="826.9" r="3.9"/><circle cx="1525.5" cy="827.1" r="3.9"/><circle cx="1526.3" cy="820.3" r="3.9"/><circle cx="1527.5" cy="826.9" r="3.9"/><circle cx="1530.2" cy="827.2" r="3.9"/><circle cx="1530.7" cy="826.2" r="3.9"/><circle cx="1531.9" cy="824.6" r="3.9"/><circle cx="1533.6" cy="822.6" r="3.9"/><circle cx="1536.1" cy="827.6" r="3.9"/><circle cx="1537.4" cy="820.8" r="3.9"/><circle cx="1538.8" cy="828.9" r="3.9"/><circle cx="1539.9" cy="824" r="3.9"/><circle cx="1541.4" cy="822.8" r="3.9"/><circle cx="1543.7" cy="826.3" r="3.9"/><circle cx="1544.5" cy="825.2" r="3.9"/><circle cx="1545.8" cy="826.1" r="3.9"/><circle cx="1547.4" cy="823.4" r="3.9"/><circle cx="1548.9" cy="825.7" r="3.9"/><circle cx="1550.4" cy="828.5" r="3.9"/><circle cx="1551.6" cy="826.3" r="3.9"/><circle cx="1552.4" cy="831.9" r="3.9"/><circle cx="1555.1" cy="828.5" r="3.9"/><circle cx="1556.2" cy="823.7" r="3.9"/><circle cx="1557.1" cy="830.1" r="3.9"/><circle cx="1559.4" cy="826.8" r="3.9"/><circle cx="1559.7" cy="833.2" r="3.9"/><circle cx="1562.5" cy="829.8" r="3.9"/><circle cx="1563.3" cy="828.2" r="3.9"/><circle cx="1565.2" cy="828" r="3.9"/><circle cx="1566" cy="830.3" r="3.9"/><circle cx="1568.2" cy="832.6" r="3.9"/><circle cx="1570.8" cy="825" r="3.9"/><circle cx="1571.2" cy="829.2" r="3.9"/><circle cx="1571.7" cy="833.1" r="3.9"/><circle cx="1574.3" cy="825.9" r="3.9"/><circle cx="1574.7" cy="833.5" r="3.9"/><circle cx="1577.5" cy="831.5" r="3.9"/><circle cx="1577.7" cy="834.3" r="3.9"/><circle cx="1579.3" cy="832.9" r="3.9"/><circle cx="1582.5" cy="830" r="3.9"/><circle cx="1582.6" cy="832" r="3.9"/><circle cx="1584.6" cy="828.9" r="3.9"/><circle cx="1586" cy="836.2" r="3.9"/><circle cx="1587.2" cy="833.2" r="3.9"/><circle cx="1589.6" cy="832.2" r="3.9"/><circle cx="1590.5" cy="830.2" r="3.9"/><circle cx="1591.7" cy="835.6" r="3.9"/><circle cx="1593.6" cy="829" r="3.9"/><circle cx="1595.1" cy="835.9" r="3.9"/><circle cx="1595.8" cy="834.1" r="3.9"/><circle cx="1597.5" cy="837.3" r="3.9"/><circle cx="1599.4" cy="833.6" r="3.9"/><circle cx="1601.9" cy="831.2" r="3.9"/><circle cx="1602.6" cy="831.2" r="3.9"/><circle cx="1604" cy="833.2" r="3.9"/><circle cx="1605.5" cy="833.8" r="3.9"/><circle cx="1608.1" cy="831.7" r="3.9"/><circle cx="1607.9" cy="839.9" r="3.9"/><circle cx="1610.2" cy="831.6" r="3.9"/><circle cx="1611.5" cy="838.3" r="3.9"/><circle cx="1613" cy="836.7" r="3.9"/><circle cx="1615.1" cy="836.2" r="3.9"/><circle cx="1615.7" cy="831.6" r="3.9"/><circle cx="1616.9" cy="839.8" r="3.9"/><circle cx="1619.1" cy="837.3" r="3.9"/><circle cx="1620.1" cy="839.4" r="3.9"/><circle cx="1620.9" cy="841.1" r="3.9"/><circle cx="1622.2" cy="840" r="3.9"/><circle cx="1625.8" cy="835" r="3.9"/><circle cx="1627.1" cy="834.7" r="3.9"/><circle cx="1628.9" cy="833.8" r="3.9"/><circle cx="1628.6" cy="838.3" r="3.9"/><circle cx="1630.1" cy="837.5" r="3.9"/><circle cx="1632.5" cy="842.1" r="3.9"/><circle cx="1633.8" cy="839.2" r="3.9"/><circle cx="1634.9" cy="834.8" r="3.9"/><circle cx="1636.8" cy="836.3" r="3.9"/><circle cx="1637.3" cy="840.1" r="3.9"/><circle cx="1639.6" cy="840.6" r="3.9"/><circle cx="1641.8" cy="838.7" r="3.9"/><circle cx="1641.4" cy="843.6" r="3.9"/><circle cx="1645.2" cy="837" r="3.9"/><circle cx="1646.1" cy="837.4" r="3.9"/><circle cx="1646" cy="843.6" r="3.9"/><circle cx="1649" cy="843.3" r="3.9"/><circle cx="1649.5" cy="842.8" r="3.9"/><circle cx="1650.7" cy="841.7" r="3.9"/><circle cx="1654" cy="836.3" r="3.9"/><circle cx="1653.7" cy="842.9" r="3.9"/><circle cx="1656.3" cy="842.4" r="3.9"/><circle cx="1657.1" cy="841.6" r="3.9"/><circle cx="1659.6" cy="837.2" r="3.9"/><circle cx="1660.8" cy="838.8" r="3.9"/><circle cx="1559.3" cy="897.5" r="3.9"/><circle cx="1560" cy="895.6" r="3.9"/><circle cx="1562.6" cy="897.6" r="3.9"/><circle cx="1563.7" cy="897.5" r="3.9"/><circle cx="1562.1" cy="892.7" r="3.9"/><circle cx="1564.3" cy="893.1" r="3.9"/><circle cx="1565.7" cy="898.4" r="3.9"/><circle cx="1568.5" cy="892.3" r="3.9"/><circle cx="1569.2" cy="891.8" r="3.9"/><circle cx="1570.3" cy="899.2" r="3.9"/><circle cx="1572.6" cy="895.5" r="3.9"/><circle cx="1573.3" cy="899.5" r="3.9"/><circle cx="1575.5" cy="897.6" r="3.9"/><circle cx="1577.5" cy="893.6" r="3.9"/><circle cx="1577.5" cy="898.8" r="3.9"/><circle cx="1579" cy="893" r="3.9"/><circle cx="1581" cy="894.5" r="3.9"/><circle cx="1582.8" cy="893.5" r="3.9"/><circle cx="1583.3" cy="900.7" r="3.9"/><circle cx="1585.2" cy="893.9" r="3.9"/><circle cx="1585.7" cy="895.5" r="3.9"/><circle cx="1587.2" cy="893.5" r="3.9"/><circle cx="1588.8" cy="893.1" r="3.9"/><circle cx="1590.6" cy="899.7" r="3.9"/><circle cx="1592.1" cy="897.9" r="3.9"/><circle cx="1593.9" cy="895.8" r="3.9"/><circle cx="1593.9" cy="896.9" r="3.9"/><circle cx="1594.7" cy="903.7" r="3.9"/><circle cx="1598" cy="894.5" r="3.9"/><circle cx="1599.1" cy="903" r="3.9"/><circle cx="1600.3" cy="901.3" r="3.9"/><circle cx="1601.9" cy="904.1" r="3.9"/><circle cx="1602.9" cy="902.3" r="3.9"/><circle cx="1605.4" cy="895.5" r="3.9"/><circle cx="1605.4" cy="902.8" r="3.9"/><circle cx="1607.4" cy="896.1" r="3.9"/><circle cx="1608.6" cy="903.9" r="3.9"/><circle cx="1610.4" cy="900.4" r="3.9"/><circle cx="1611.1" cy="896.3" r="3.9"/><circle cx="1613" cy="902" r="3.9"/><circle cx="1615" cy="895.5" r="3.9"/><circle cx="1615.4" cy="901.1" r="3.9"/><circle cx="1617.5" cy="897.7" r="3.9"/><circle cx="1617.8" cy="901.3" r="3.9"/><circle cx="1619.3" cy="903.6" r="3.9"/><circle cx="1622" cy="897.3" r="3.9"/><circle cx="1622.4" cy="903" r="3.9"/><circle cx="1624.4" cy="903" r="3.9"/><circle cx="1625.3" cy="904" r="3.9"/><circle cx="1625.8" cy="904.4" r="3.9"/><circle cx="1628.8" cy="900.9" r="3.9"/><circle cx="1629.1" cy="905.3" r="3.9"/><circle cx="1630.8" cy="905.1" r="3.9"/><circle cx="1632" cy="897.9" r="3.9"/><circle cx="1634.3" cy="900" r="3.9"/><circle cx="1635" cy="900.1" r="3.9"/><circle cx="1636.9" cy="896.4" r="3.9"/><circle cx="1637.8" cy="901.2" r="3.9"/><circle cx="1639.6" cy="897.9" r="3.9"/><circle cx="1638.6" cy="905.2" r="3.9"/><circle cx="1642.4" cy="901.2" r="3.9"/><circle cx="1643.2" cy="902.4" r="3.9"/><circle cx="1646" cy="900.1" r="3.9"/><circle cx="1642.9" cy="909.3" r="3.9"/><circle cx="1646.4" cy="905.9" r="3.9"/><circle cx="1648.2" cy="907.3" r="3.9"/><circle cx="1646.8" cy="911.8" r="3.9"/><circle cx="1652.4" cy="905.3" r="3.9"/><circle cx="1651.8" cy="905.9" r="3.9"/><circle cx="1654.3" cy="904" r="3.9"/><circle cx="1654.3" cy="911.3" r="3.9"/><circle cx="1656.3" cy="904.2" r="3.9"/><circle cx="1656.7" cy="910.4" r="3.9"/><circle cx="1658.5" cy="912.1" r="3.9"/><circle cx="1658.7" cy="913.9" r="3.9"/><circle cx="1662.5" cy="905.5" r="3.9"/><circle cx="1662.4" cy="910.4" r="3.9"/><circle cx="1664.8" cy="908.5" r="3.9"/><circle cx="1665.9" cy="910.1" r="3.9"/><circle cx="1665.8" cy="912.1" r="3.9"/><circle cx="1668.5" cy="907.7" r="3.9"/><circle cx="1669.4" cy="914.4" r="3.9"/><circle cx="1669.4" cy="915.3" r="3.9"/><circle cx="1672.4" cy="911" r="3.9"/><circle cx="1673.1" cy="916" r="3.9"/><circle cx="1674.2" cy="911.3" r="3.9"/><circle cx="1676.3" cy="915.6" r="3.9"/><circle cx="1678.1" cy="909.8" r="3.9"/><circle cx="1678.3" cy="912" r="3.9"/><circle cx="1679.6" cy="916.1" r="3.9"/><circle cx="1681.1" cy="916.3" r="3.9"/><circle cx="1683.6" cy="908.2" r="3.9"/><circle cx="1683.6" cy="918" r="3.9"/><circle cx="1686.4" cy="910.5" r="3.9"/><circle cx="1687.6" cy="914.8" r="3.9"/><circle cx="1689.5" cy="913.8" r="3.9"/><circle cx="1690.3" cy="912.8" r="3.9"/><circle cx="1692.8" cy="908.5" r="3.9"/><circle cx="1692" cy="919" r="3.9"/><circle cx="1693.6" cy="918.8" r="3.9"/><circle cx="1694.8" cy="917.6" r="3.9"/><circle cx="1697.4" cy="918.8" r="3.9"/><circle cx="1698.8" cy="916.2" r="3.9"/><circle cx="1700.1" cy="916.8" r="3.9"/><circle cx="1700.6" cy="915.3" r="3.9"/><circle cx="1703" cy="916.5" r="3.9"/><circle cx="1704.2" cy="915.5" r="3.9"/><circle cx="1705.2" cy="920.6" r="3.9"/><circle cx="1707" cy="913.2" r="3.9"/><circle cx="1708.7" cy="911.2" r="3.9"/><circle cx="1709" cy="921.3" r="3.9"/><circle cx="1711.5" cy="913.3" r="3.9"/><circle cx="1713" cy="916.7" r="3.9"/><circle cx="1715" cy="911.9" r="3.9"/><circle cx="1715.7" cy="914.1" r="3.9"/><circle cx="1717.4" cy="914.2" r="3.9"/><circle cx="1718.6" cy="911.8" r="3.9"/><circle cx="1718.7" cy="921.2" r="3.9"/><circle cx="1720.5" cy="918.1" r="3.9"/><circle cx="1722.3" cy="913.6" r="3.9"/><circle cx="1723.6" cy="917.1" r="3.9"/><circle cx="1724.8" cy="919.2" r="3.9"/><circle cx="1727.1" cy="915.6" r="3.9"/><circle cx="1728.2" cy="914.6" r="3.9"/><circle cx="1729.2" cy="916.8" r="3.9"/><circle cx="1731.6" cy="912.4" r="3.9"/><circle cx="1731.7" cy="923.4" r="3.9"/><circle cx="1733.2" cy="919.7" r="3.9"/><circle cx="1734.3" cy="916.3" r="3.9"/><circle cx="1736" cy="916.7" r="3.9"/><circle cx="1738.8" cy="915.2" r="3.9"/><circle cx="1738.2" cy="924.6" r="3.9"/><circle cx="1741.2" cy="914.3" r="3.9"/><circle cx="1741.3" cy="919.3" r="3.9"/><circle cx="1744.2" cy="915.3" r="3.9"/><circle cx="1743.1" cy="926.5" r="3.9"/><circle cx="1746.7" cy="916.2" r="3.9"/><circle cx="1747.2" cy="918.9" r="3.9"/><circle cx="1747.8" cy="922.6" r="3.9"/><circle cx="1749.3" cy="925.6" r="3.9"/><circle cx="1750.5" cy="924.7" r="3.9"/><circle cx="1752.2" cy="925.3" r="3.9"/><circle cx="1753.2" cy="925.8" r="3.9"/><circle cx="1755.2" cy="927.9" r="3.9"/><circle cx="1756.9" cy="927.5" r="3.9"/><circle cx="1757.6" cy="926.2" r="3.9"/><circle cx="1758.9" cy="922.6" r="3.9"/><circle cx="1761" cy="924" r="3.9"/><circle cx="1761.2" cy="927" r="3.9"/><circle cx="1763.8" cy="924.9" r="3.9"/><circle cx="1765.3" cy="922.9" r="3.9"/><circle cx="1766.4" cy="926.9" r="3.9"/><circle cx="1768.1" cy="922.4" r="3.9"/><circle cx="1769.8" cy="922.6" r="3.9"/><circle cx="1769.6" cy="928.3" r="3.9"/><circle cx="1772.2" cy="924.6" r="3.9"/><circle cx="1774.4" cy="920.4" r="3.9"/><circle cx="1775.5" cy="920" r="3.9"/><circle cx="1776.7" cy="926.4" r="3.9"/><circle cx="1777.1" cy="931.3" r="3.9"/><circle cx="1777.8" cy="930.3" r="3.9"/><circle cx="1780.2" cy="932.2" r="3.9"/><circle cx="1781.2" cy="924.8" r="3.9"/><circle cx="1784.5" cy="919.2" r="3.9"/><circle cx="1784.5" cy="927" r="3.9"/><circle cx="1785" cy="932.1" r="3.9"/><circle cx="1786.5" cy="926.8" r="3.9"/><circle cx="1788.7" cy="926.8" r="3.9"/><circle cx="1790.1" cy="929.3" r="3.9"/><circle cx="1791.6" cy="924.7" r="3.9"/><circle cx="1792.4" cy="924.7" r="3.9"/><circle cx="1794.1" cy="929.5" r="3.9"/><circle cx="1796.5" cy="921.5" r="3.9"/><circle cx="1797.2" cy="925.9" r="3.9"/><circle cx="1797.8" cy="928.4" r="3.9"/><circle cx="1799.3" cy="934.2" r="3.9"/><circle cx="1801.2" cy="926.8" r="3.9"/><circle cx="1802.3" cy="934.9" r="3.9"/><circle cx="1803.6" cy="928.3" r="3.9"/><circle cx="1805.7" cy="923.3" r="3.9"/>
</g>
<path fill="none" stroke="#fff" stroke-width="1" d="M382.5 647.8l1 2.1M412.3 666.9l1.6 1.2M420.3 671l1.9 1.2M434.1 684.2l0.7 0.9M443 686.4l1.9 1.4M452.8 685.9l1 1.9M469.4 693.1l1 1.1M485.5 702.4l1.2 1.4M496 697.6l0.6 1M504.7 699.6l1.8 1.9M531.4 703.8l0.9 1.4M548.7 708.4l1 0.7M574.9 715.5l0.8 0.7M609.7 725l0.9 0.6M636.1 731.4l0.8 1.4M662.9 735.4l1.5 1M681.4 731.9l0.9 1.8M699.5 732.7l1.1 0.9M717 738.2l1.8 1M726.1 737.9l1.1 0.5M744.1 738.8l1.3 0.8M753.2 738.1l1 1.4M761.5 745l1.4 0.7M779.6 745l1.3 2.3M788.6 745.3l1 1.5M805.7 752.9l1 1M815.6 747.1l0.9 1.3M842.3 751l0.9 1.1M859.9 755.2l1 1.1M877.7 758.3l1.1 1.2M887.2 754.3l2.3 1.4M895.6 760.3l1.9 1M904.7 759.9l0.9 0.7M913.9 758.5l2.1 1.2M922.7 761l1.1 2.3M949.6 762.9l2.2 1M967.4 766.2l1.4 1.9M975.9 771l1.8 1.4M985.6 765.6l1.1 2.2M1003.5 767l1.2 0.7M1012.1 771l1.5 0.7M1029.5 777.2l1.6 1.8M1038.9 774.6l1 1.4M1047.2 779.6l0.8 1.3M1056 781.3l0.7 0.8M1066.1 776l0.7 1.2M1091.9 785.5l1.9 1.6M1110.5 781.6l0.7 1.7M1164.2 786.7l1.1 1.5M1172.3 796.4l2.2 1.2M1181.5 794.9l0.8 1.3M1190.2 798.3l1.3 1.6M1200 789.7l1.4 1.2M1208.7 793l2.1 1.2M1226.7 793.7l1.3 1.4M1244.6 795.7l0.6 1.1M1262 802.9l1.7 1.9M1271.1 802.3l1.2 1.5M1298.4 801.3l1.1 0.9M1307.4 802.2l2 1.3M1316.5 801.4l1.5 1.2M1325.4 803l0.9 0.5M1351.6 812l0.8 2M1360.8 810.4l1 0.9M1370.3 806l1 2.1M1405.8 812.4l0.9 0.5M1432.7 814.4l1.7 2.1M1450 823l1.2 2.2M1459.6 817.1l0.8 1.4M1468.1 822.1l2 1.7M1477.7 817.2l1.5 1.7M1522.1 824.7l1.4 0.8M1539.8 828.1l1.6 1M1558.5 823l1 0.9M1575.2 834.4l1.2 2.3M1585 829.4l1.2 1.6M1593.8 831.3l1.7 1.6M1620.6 834.5l1.5 1.5M1629.6 834.4l1.5 0.7M1637.6 844l1.2 2.5M1574 898.3l1 -1.2M1581.6 902.5l1.6 -1.6M1590.4 896l0.5 -0.9M1597.9 900.9l0.9 -0.8M1614 900.9l1.5 -1.4M1622.1 899.2l1.2 -0.6M1639.2 897.2l0.7 -1.3M1645 905.4l1.6 -1.1M1653.3 905.6l0.8 -0.9M1659.9 911.2l1.6 -0.8M1668.1 910.7l1 -1.9M1691.2 919.9l0.7 -1M1708.2 911.3l0.8 -2M1723.1 921.4l1.3 -0.6M1732.5 911.8l0.9 -1.1M1739 922.9l2 -1.9M1762.3 929.7l0.6 -1.2M1778.5 929.7l1.6 -2.1M1787.2 924.3l1.6 -2.4M1802.8 929.5l1.9 -1"/>
<g fill="#fff" stroke="#00f" stroke-width="2.3">
<circle cx="1513.8" cy="826.7" r="4.4"/><circle cx="1516" cy="827" r="4.4"/><circle cx="1515" cy="828.8" r="4.4"/><circle cx="1517.4" cy="830.4" r="4.4"/><circle cx="1515.6" cy="831" r="4.4"/><circle cx="1516.1" cy="833.6" r="4.4"/><circle cx="1516.8" cy="834.7" r="4.4"/><circle cx="1517.5" cy="836.3" r="4.4"/><circle cx="1518.1" cy="836.9" r="4.4"/><circle cx="1520" cy="839" r="4.4"/><circle cx="1519.8" cy="840.9" r="4.4"/><circle cx="1520.9" cy="841.1" r="4.4"/><circle cx="1519.5" cy="842.7" r="4.4"/><circle cx="1520.3" cy="845.4" r="4.4"/><circle cx="1521.6" cy="845.5" r="4.4"/><circle cx="1520.1" cy="848.2" r="4.4"/><circle cx="1522.1" cy="848.9" r="4.4"/><circle cx="1522.2" cy="849.8" r="4.4"/><circle cx="1524" cy="851.5" r="4.4"/><circle cx="1524.8" cy="853.2" r="4.4"/><circle cx="1523.1" cy="854.1" r="4.4"/><circle cx="1524.3" cy="856.3" r="4.4"/><circle cx="1526.1" cy="856.2" r="4.4"/><circle cx="1525.6" cy="858.1" r="4.4"/><circle cx="1527.2" cy="859.7" r="4.4"/><circle cx="1527.7" cy="860.7" r="4.4"/><circle cx="1527.3" cy="862.3" r="4.4"/><circle cx="1529" cy="862.7" r="4.4"/><circle cx="1530.2" cy="865.6" r="4.4"/><circle cx="1529.7" cy="865.5" r="4.4"/><circle cx="1532.3" cy="867" r="4.4"/><circle cx="1531.9" cy="868.7" r="4.4"/><circle cx="1532.6" cy="870.1" r="4.4"/><circle cx="1534.2" cy="872" r="4.4"/><circle cx="1536.3" cy="871.8" r="4.4"/><circle cx="1535.8" cy="874.3" r="4.4"/><circle cx="1537.5" cy="875.6" r="4.4"/><circle cx="1537.6" cy="876.6" r="4.4"/><circle cx="1537.5" cy="877.4" r="4.4"/><circle cx="1539.6" cy="879.6" r="4.4"/><circle cx="1540.8" cy="880.6" r="4.4"/><circle cx="1539.6" cy="882" r="4.4"/><circle cx="1541.7" cy="882.9" r="4.4"/><circle cx="1542.2" cy="883.9" r="4.4"/><circle cx="1543" cy="885.1" r="4.4"/><circle cx="1542.5" cy="886.1" r="4.4"/><circle cx="1544.3" cy="888.3" r="4.4"/><circle cx="1545.7" cy="888.4" r="4.4"/><circle cx="1546" cy="889.3" r="4.4"/><circle cx="1547.4" cy="890.2" r="4.4"/><circle cx="1547.3" cy="892.5" r="4.4"/><circle cx="1549.7" cy="893" r="4.4"/><circle cx="1551.2" cy="893.6" r="4.4"/><circle cx="1551.4" cy="893.9" r="4.4"/><circle cx="1553.1" cy="894.9" r="4.4"/><circle cx="1555.7" cy="896" r="4.4"/><circle cx="1557.7" cy="896.3" r="4.4"/><circle cx="1559" cy="897.4" r="4.4"/><circle cx="1658.9" cy="840.5" r="4.4"/><circle cx="1661.6" cy="842.7" r="4.4"/><circle cx="1662.5" cy="843.3" r="4.4"/><circle cx="1664.1" cy="844.4" r="4.4"/><circle cx="1664.5" cy="844.7" r="4.4"/><circle cx="1667.7" cy="845.7" r="4.4"/><circle cx="1666.6" cy="846.9" r="4.4"/><circle cx="1666.9" cy="848.9" r="4.4"/><circle cx="1668.9" cy="850.4" r="4.4"/><circle cx="1668.7" cy="852" r="4.4"/><circle cx="1669.8" cy="854.7" r="4.4"/><circle cx="1670.5" cy="855.2" r="4.4"/><circle cx="1671.3" cy="858" r="4.4"/><circle cx="1671.5" cy="858.2" r="4.4"/><circle cx="1672.6" cy="861.1" r="4.4"/><circle cx="1671.9" cy="861.5" r="4.4"/><circle cx="1672.1" cy="863.7" r="4.4"/><circle cx="1674.5" cy="865.5" r="4.4"/><circle cx="1675.1" cy="866.4" r="4.4"/><circle cx="1674.2" cy="868.9" r="4.4"/><circle cx="1675.6" cy="869.9" r="4.4"/><circle cx="1676.2" cy="871.4" r="4.4"/><circle cx="1675.1" cy="873.2" r="4.4"/><circle cx="1675.7" cy="875.1" r="4.4"/><circle cx="1677" cy="876.5" r="4.4"/><circle cx="1678.2" cy="877.7" r="4.4"/><circle cx="1678.4" cy="879" r="4.4"/><circle cx="1680.2" cy="881.4" r="4.4"/><circle cx="1680.9" cy="882.2" r="4.4"/><circle cx="1680.5" cy="884.9" r="4.4"/><circle cx="1680.3" cy="885.5" r="4.4"/><circle cx="1680.4" cy="887.2" r="4.4"/><circle cx="1682.7" cy="888.7" r="4.4"/><circle cx="1683.5" cy="890.7" r="4.4"/><circle cx="1683.6" cy="892.5" r="4.4"/><circle cx="1684.4" cy="894.1" r="4.4"/><circle cx="1685.3" cy="895.1" r="4.4"/><circle cx="1686.4" cy="896.5" r="4.4"/><circle cx="1687.5" cy="898.6" r="4.4"/><circle cx="1688.8" cy="899.1" r="4.4"/><circle cx="1689.9" cy="901.5" r="4.4"/><circle cx="1690.2" cy="901.6" r="4.4"/><circle cx="1691.5" cy="903.9" r="4.4"/><circle cx="1691.7" cy="903.7" r="4.4"/><circle cx="1693.7" cy="906" r="4.4"/><circle cx="1695.8" cy="906.6" r="4.4"/><circle cx="1697.7" cy="907.4" r="4.4"/><circle cx="1698.5" cy="908.1" r="4.4"/><circle cx="1698" cy="909.2" r="4.4"/><circle cx="1699.4" cy="910.8" r="4.4"/><circle cx="1702.1" cy="911.3" r="4.4"/>
</g>
<g fill="#fff" stroke="#00f" stroke-width="2">
<circle cx="345.3" cy="622.7" r="3.9"/>
</g>
</g>
<g id="ar-lines">
<path fill="none" stroke="#000" stroke-width="6.6" stroke-linecap="round" d="M479.6 371L485.9 396.9M492.2 422.1L498.3 446.9M504.7 472.1L511.3 497.9M517.5 523.1L523.7 549M529.8 574.2L536.3 599.9M542.4 625.1L548.6 651.1M554.8 676.3L561.3 702M567.8 727.2L569.2 732.8"/>
<path fill="none" stroke="#000" stroke-width="6.6" stroke-linecap="round" d="M590.9 510.8L602.6 551.7M609.1 576.9L626.6 654.8M632.7 680.1L644.1 725.2M650.5 750.4L653.3 761.9"/>
<path fill="none" stroke="#000" stroke-width="8.5" stroke-linecap="round" d="M614.5 760.3L619.3 762"/>
</g>
<g id="red-return">
<path fill="#f00" d="M343.3 413.5L344.5 416.2L345.7 419L346.8 421.8L348.1 424.8L349.7 427.8L351.4 430.5L353.1 433L354.8 435.5L356.5 438L358.2 440.3L359.7 442.7L361.2 445.2L362.8 447.7L364.3 450.3L365.9 452.9L367.4 455.4L369.1 458.2L371 460.9L372.9 463.4L374.8 465.7L376.6 468.1L378.5 470.5L380.5 473.1L382.8 475.5L384.9 477.7L387 479.9L389.1 482L391.2 484.2L393.3 486.3L395.4 488.5L397.5 490.6L399.6 492.8L401.8 495L404.2 497.3L406.6 499.4L408.9 501.3L411.1 503.2L413.4 505.2L415.7 507.1L418 509.1L420.3 511L422.5 513L425.2 515.3L428.1 517.1L430.7 518.7L433.2 520.3L435.8 521.9L438.3 523.5L440.9 525.1L443.4 526.7L445.9 528.2L448.3 529.8L450.8 531.5L453.2 533.1L455.7 534.8L458.2 536.5L460.7 538.2L463.2 539.9L465.7 541.5L468.2 543.2L470.6 544.9L473.1 546.6L476 548.5L479.2 550.1L482.1 551.4L484.9 552.5L487.6 553.7L490.4 554.9L493.2 556.1L495.9 557.2L498.7 558.4L501.4 559.6L504.2 560.8L507 561.9L509.7 563.1L512.5 564.3L515.3 565.5L518 566.6L520.5 567.7L522.9 569L525.5 570.4L528.1 571.8L530.8 573.3L533.4 574.7L536.1 576.1L538.7 577.5L541.3 579L544 580.4L546.6 581.8L549.3 583.2L551.9 584.7L554.5 586.1L557.2 587.5L559.8 588.9L562.7 590.5L565.7 591.8L568.5 593L571.3 594.2L574 595.4L576.8 596.5L579.6 597.7L582.3 598.9L585.1 600L587.9 601.2L590.6 602.4L593.4 603.5L596.1 604.7L598.9 605.9L601.7 607L604.6 608.3L607.9 609.5L611.2 610.3L614.2 610.9L616.9 611.6L619.4 612.3L622 613.2L624.9 614.2L627.7 615.3L630.5 616.3L633.3 617.3L636.2 618.3L639 619.3L641.8 620.3L644.6 621.4L647.5 622.4L650.8 623.5L654.1 624.2L657 624.8L659.9 625.4L662.9 626L665.8 626.7L668.8 627.3L671.8 627.9L674.7 628.5L677.4 629L679.9 629.7L682.6 630.6L685.4 631.6L688.2 632.5L690.7 633.4L693.3 634.6L696.4 635.9L700 637L703.4 637.5L706.4 638L709.3 638.5L712.3 639L715.2 639.5L718.2 639.9L721.2 640.4L724.1 640.9L727.1 641.4L730.1 641.9L733 642.4L736 642.8L738.9 643.3L741.5 643.7L744 644.5L746.8 645.3L749.7 646.2L752.6 647.1L755.4 647.9L758.3 648.8L761.2 649.7L764 650.5L766.9 651.4L769.8 652.3L772.7 653.2L775.5 654L778.4 654.9L781.3 655.8L784.4 656.7L787.7 657.4L790.6 658L793.6 658.5L796.5 659.1L799.5 659.7L802.4 660.3L805.3 660.9L808.3 661.5L811.2 662.1L815.5 662.8L820.1 661.8L823.3 660.7L823.7 660.5L819.3 648.5L818.9 648.6L816.4 649.6L815.3 650L813.7 649.5L810.8 648.9L807.8 648.3L804.9 647.8L802 647.2L799 646.6L796.1 646L793.1 645.4L790.2 644.8L787.6 644.3L785 643.5L782.1 642.6L779.2 641.8L776.4 640.9L773.5 640L770.6 639.2L767.8 638.3L764.9 637.4L762 636.6L759.1 635.7L756.3 634.8L753.4 634L750.5 633.1L747.6 632.2L744.4 631.3L741 630.7L738 630.2L735.1 629.7L732.1 629.2L729.1 628.8L726.2 628.3L723.2 627.8L720.3 627.3L717.3 626.8L714.3 626.4L711.4 625.9L708.4 625.4L705.5 624.9L702.9 624.5L700.8 623.9L698.4 622.8L695.5 621.6L692.4 620.4L689.5 619.4L686.6 618.5L683.7 617.5L680.4 616.6L677.2 615.9L674.3 615.3L671.4 614.7L668.5 614.1L665.5 613.5L662.6 612.9L659.6 612.3L656.7 611.7L654.1 611.1L651.7 610.3L649 609.3L646.1 608.3L643.3 607.3L640.5 606.3L637.7 605.2L634.8 604.2L632 603.2L629.2 602.2L626.4 601.2L623.4 600.1L620.1 599.2L617 598.5L614.1 597.8L611.6 597.2L609.3 596.4L606.7 595.3L603.9 594.1L601.1 592.9L598.4 591.8L595.6 590.6L592.8 589.4L590.1 588.2L587.3 587.1L584.6 585.9L581.8 584.7L579 583.6L576.3 582.4L573.5 581.2L570.8 580.1L568.3 579L565.9 577.7L563.3 576.3L560.6 574.8L558 573.4L555.3 572L552.7 570.6L550.1 569.1L547.4 567.7L544.8 566.3L542.1 564.9L539.5 563.4L536.9 562L534.2 560.6L531.6 559.2L528.9 557.7L526.1 556.2L523.1 554.9L520.3 553.7L517.5 552.5L514.7 551.3L512 550.2L509.2 549L506.5 547.8L503.7 546.6L500.9 545.5L498.2 544.3L495.4 543.1L492.7 541.9L489.9 540.8L487.1 539.6L484.6 538.5L482.4 537.4L480.3 536L477.8 534.3L475.3 532.6L472.9 530.9L470.4 529.2L467.9 527.5L465.4 525.9L462.9 524.2L460.5 522.5L458 520.8L455.5 519.1L452.9 517.4L450.3 515.7L447.7 514.1L445.2 512.5L442.7 510.9L440.1 509.3L437.6 507.7L435 506.1L432.9 504.8L431 503.2L428.7 501.2L426.5 499.2L424.2 497.3L421.9 495.3L419.7 493.3L417.4 491.4L415.1 489.4L413 487.6L411 485.7L409.1 483.6L407 481.5L404.9 479.3L402.9 477.1L400.8 474.9L398.7 472.8L396.6 470.6L394.6 468.4L392.6 466.3L390.8 464.4L389.1 462.2L387.3 459.9L385.5 457.5L383.7 455.1L381.9 452.8L380.4 450.6L378.9 448.3L377.3 445.8L375.6 443.2L374 440.7L372.4 438.2L370.7 435.6L368.9 432.9L367 430.5L365.3 428L363.5 425.6L361.7 423.2L359.9 421L358.4 419L356.9 416.7L355.4 414.1L353.8 411.5L352.3 408.9z"/>
<path fill="#f00" d="M881.5 823.8L884.4 823L886.8 822.3L888.5 822.1L890.8 822.5L893.7 822.9L896.3 823.3L898.7 823.9L901.5 824.7L904.4 825.5L907.3 826.3L910.2 827.1L913.1 827.9L916 828.7L918.9 829.5L921.8 830.3L924.7 831.1L927.6 831.9L930.5 832.7L933.3 833.5L936.2 834.3L939.4 835.1L942.6 835.7L945.6 836.2L948.6 836.8L951.5 837.3L954.5 837.8L957.4 838.3L960.4 838.9L963.3 839.4L966.3 839.9L969.2 840.4L972.2 841L975.1 841.5L978.1 842L980.9 842.5L983.6 843.1L986.3 843.8L989.2 844.6L992.1 845.4L995 846.2L998.1 847.1L1001.3 847.7L1004.3 848.2L1007.3 848.8L1010.3 849.3L1013.2 849.8L1016.2 850.3L1019.1 850.9L1022.1 851.4L1025 851.9L1028 852.4L1030.9 853L1033.9 853.5L1036.8 854L1039.7 854.5L1042.4 855.1L1045.2 855.7L1048.1 856.5L1051 857.4L1053.8 858.3L1056.7 859.3L1059.5 860.2L1062.4 861.2L1065.3 862.1L1068.1 863.1L1071 863.8L1073.9 864.5L1076.8 865.3L1079.7 866L1082.7 866.7L1085.8 867.5L1088.8 868.1L1091.7 868.7L1094.7 869.4L1097.6 870L1100.5 870.6L1103.5 871.2L1106.4 871.9L1109.3 872.5L1112.3 873.1L1115.2 873.7L1118.1 874.4L1121.1 875L1124 875.6L1126.9 876.2L1129.7 876.9L1132.6 877.6L1135.5 878.3L1138.4 879L1141.3 879.7L1144.3 880.4L1147.2 881.1L1150.1 881.8L1153 882.5L1155.9 883.2L1158.8 883.9L1161.8 884.6L1164.7 885.3L1167.6 886L1170.4 886.6L1173.2 887.4L1176.1 888.2L1179 888.9L1182 889.4L1184.9 890L1187.9 890.6L1190.8 891.2L1193.8 891.8L1196.7 892.4L1199.7 893L1202.6 893.6L1205.6 894.2L1208.5 894.8L1211.6 895.5L1215 896.2L1218.3 896.6L1221.2 896.9L1224.2 897.2L1227.2 897.5L1230.2 897.8L1233.2 898.1L1236.2 898.4L1239.2 898.7L1242.1 898.9L1245.1 899.2L1248.1 899.5L1251.1 899.8L1254.1 900.1L1257 900.4L1259.9 900.8L1262.9 901.1L1265.9 901.5L1268.8 901.9L1271.8 902.2L1274.8 902.6L1277.8 903L1280.8 903.3L1283.7 903.7L1286.7 904.1L1289.7 904.4L1292.7 904.8L1295.6 905.1L1298.5 905.5L1301.1 905.9L1303.9 906.6L1306.8 907.3L1309.7 908L1312.6 908.7L1315.6 909.4L1318.5 910L1321.4 910.7L1324.3 911.4L1327.2 912.1L1329.9 912.8L1332.7 913.7L1335.6 914.5L1338.4 915.4L1341.3 916.2L1344.2 917.1L1346.4 917.8L1349.6 907.2L1347.4 906.5L1344.5 905.7L1341.7 904.8L1338.8 903.9L1335.9 903L1333 902.1L1330 901.2L1327 900.5L1324 899.8L1321.1 899L1318.2 898.3L1315.3 897.6L1312.4 896.9L1309.5 896.2L1306.6 895.4L1303.5 894.7L1300.2 894.1L1297.1 893.7L1294.1 893.3L1291.2 892.9L1288.2 892.5L1285.2 892.1L1282.2 891.7L1279.3 891.3L1276.3 890.9L1273.3 890.5L1270.4 890.1L1267.4 889.7L1264.4 889.3L1261.4 888.9L1258.4 888.5L1255.3 888.2L1252.4 887.9L1249.4 887.5L1246.4 887.2L1243.4 886.9L1240.4 886.5L1237.4 886.2L1234.5 885.9L1231.5 885.6L1228.5 885.2L1225.5 884.9L1222.5 884.6L1219.6 884.2L1216.9 884L1214.4 883.4L1211.7 882.7L1208.8 881.7L1206 880.8L1203.1 879.9L1200.3 878.9L1197.4 878L1194.5 877.1L1191.7 876.1L1188.8 875.2L1186 874.3L1183.1 873.3L1180.2 872.5L1177.3 871.7L1174.4 871L1171.3 870.2L1168.4 869.5L1165.5 868.9L1162.6 868.2L1159.6 867.5L1156.7 866.8L1153.8 866.1L1150.9 865.4L1148 864.7L1145 864L1142.1 863.4L1139.2 862.7L1136.3 862L1133.3 861.3L1130.3 860.6L1127.3 860L1124.4 859.3L1121.4 858.7L1118.5 858.1L1115.6 857.5L1112.6 856.9L1109.7 856.3L1106.8 855.7L1103.8 855L1100.9 854.4L1098 853.8L1095 853.2L1092.1 852.6L1089.2 852L1086.4 851.3L1083.6 850.6L1080.7 849.9L1077.8 849.2L1074.9 848.5L1072 847.7L1069 847.2L1066 846.7L1063.1 846.2L1060.1 845.6L1057.1 845.1L1054.2 844.6L1051.2 844.1L1048.3 843.3L1045.2 842.6L1042.1 841.9L1039.1 841.4L1036.1 840.9L1033.2 840.4L1030.2 839.9L1027.2 839.3L1024.3 838.8L1021.3 838.3L1018.4 837.8L1015.4 837.3L1012.5 836.7L1009.5 836.2L1006.6 835.7L1003.7 835.2L1001 834.7L998.3 833.9L995.5 833.2L992.6 832.4L989.7 831.6L986.6 830.7L983.4 830L980.3 829.5L977.4 829L974.4 828.5L971.4 827.9L968.5 827.4L965.5 826.9L962.6 826.4L959.6 825.9L956.7 825.3L953.7 824.8L950.8 824.3L947.8 823.8L944.9 823.3L942.2 822.8L939.6 822.1L936.7 821.3L933.8 820.5L930.9 819.7L928 818.9L925.1 818.1L922.2 817.3L919.3 816.5L916.4 815.7L913.5 814.9L910.7 814.1L907.8 813.3L904.9 812.5L901.9 811.7L898.5 811L895.1 810.7L892.1 810.4L888.4 810.1L884.2 810.8L881 811.9L878.1 812.8z"/>
<g fill="none" stroke="#f00" stroke-width="2">
<circle cx="1348.1" cy="911.4" r="3.9"/><circle cx="1345.5" cy="912.6" r="3.9"/><circle cx="1345.4" cy="911.1" r="3.9"/><circle cx="1341.9" cy="911.5" r="3.9"/><circle cx="1340.9" cy="909.6" r="3.9"/><circle cx="1339.7" cy="908.7" r="3.9"/><circle cx="1337.5" cy="908.9" r="3.9"/><circle cx="1336.1" cy="908.1" r="3.9"/><circle cx="1334.7" cy="908.9" r="3.9"/><circle cx="1332.6" cy="908.8" r="3.9"/><circle cx="1330.7" cy="908.4" r="3.9"/><circle cx="1329.5" cy="907.2" r="3.9"/><circle cx="1327.1" cy="907.5" r="3.9"/><circle cx="1326.1" cy="906.3" r="3.9"/><circle cx="1324.3" cy="904.4" r="3.9"/><circle cx="1321.5" cy="905.7" r="3.9"/><circle cx="1320" cy="905.3" r="3.9"/><circle cx="1317.9" cy="904.8" r="3.9"/><circle cx="1317.2" cy="903.2" r="3.9"/><circle cx="1315.7" cy="904.1" r="3.9"/><circle cx="1313.2" cy="903.8" r="3.9"/><circle cx="1311.9" cy="903.6" r="3.9"/><circle cx="1309.7" cy="901" r="3.9"/><circle cx="1308.7" cy="901.1" r="3.9"/><circle cx="1305.9" cy="901.8" r="3.9"/><circle cx="1305.2" cy="901" r="3.9"/><circle cx="1302.9" cy="901.5" r="3.9"/><circle cx="1301" cy="899.7" r="3.9"/><circle cx="1299.9" cy="899.6" r="3.9"/><circle cx="1298" cy="900.5" r="3.9"/><circle cx="1296.1" cy="899.8" r="3.9"/><circle cx="1293.5" cy="897.9" r="3.9"/><circle cx="1293.1" cy="897.9" r="3.9"/><circle cx="1289.5" cy="899.2" r="3.9"/><circle cx="1289.2" cy="899.7" r="3.9"/><circle cx="1287.2" cy="899.8" r="3.9"/><circle cx="1285.2" cy="899.1" r="3.9"/><circle cx="1282.5" cy="898.9" r="3.9"/><circle cx="1280.8" cy="896.8" r="3.9"/><circle cx="1280.2" cy="897.9" r="3.9"/><circle cx="1278.5" cy="896.4" r="3.9"/><circle cx="1275.5" cy="895.2" r="3.9"/><circle cx="1274.6" cy="897.5" r="3.9"/><circle cx="1271.8" cy="895.7" r="3.9"/><circle cx="1270.3" cy="896.1" r="3.9"/><circle cx="1268.3" cy="896" r="3.9"/><circle cx="1267.7" cy="897.3" r="3.9"/><circle cx="1265.9" cy="896.1" r="3.9"/><circle cx="1263.4" cy="896.5" r="3.9"/><circle cx="1261.5" cy="896.2" r="3.9"/><circle cx="1260.1" cy="895.9" r="3.9"/><circle cx="1258.4" cy="895.8" r="3.9"/><circle cx="1255.8" cy="894.3" r="3.9"/><circle cx="1254.6" cy="894.6" r="3.9"/><circle cx="1252.7" cy="892.5" r="3.9"/><circle cx="1251.7" cy="894.8" r="3.9"/><circle cx="1249.8" cy="892.3" r="3.9"/><circle cx="1246.9" cy="894.1" r="3.9"/><circle cx="1244.9" cy="894" r="3.9"/><circle cx="1243.7" cy="894.6" r="3.9"/><circle cx="1242.1" cy="893.2" r="3.9"/><circle cx="1239.5" cy="893.1" r="3.9"/><circle cx="1238.8" cy="891.8" r="3.9"/><circle cx="1236.8" cy="892.1" r="3.9"/><circle cx="1235.8" cy="891.5" r="3.9"/><circle cx="1233.6" cy="890.6" r="3.9"/><circle cx="1231" cy="892" r="3.9"/><circle cx="1230.3" cy="891.9" r="3.9"/><circle cx="1227.5" cy="891.7" r="3.9"/><circle cx="1225.4" cy="891.4" r="3.9"/><circle cx="1223.6" cy="889" r="3.9"/><circle cx="1223.1" cy="890.4" r="3.9"/><circle cx="1220.7" cy="891.5" r="3.9"/><circle cx="1218.4" cy="890.8" r="3.9"/><circle cx="1216.3" cy="891.3" r="3.9"/><circle cx="1215.9" cy="888.8" r="3.9"/><circle cx="1213.2" cy="887.9" r="3.9"/><circle cx="1211.7" cy="888.3" r="3.9"/><circle cx="1210.2" cy="888.2" r="3.9"/><circle cx="1208.8" cy="889.2" r="3.9"/><circle cx="1206.4" cy="890" r="3.9"/><circle cx="1205.2" cy="885.8" r="3.9"/><circle cx="1203.9" cy="886.6" r="3.9"/><circle cx="1201.2" cy="887.7" r="3.9"/><circle cx="1199.7" cy="884.7" r="3.9"/><circle cx="1197.9" cy="884.3" r="3.9"/><circle cx="1196.3" cy="884.9" r="3.9"/><circle cx="1194.3" cy="883.5" r="3.9"/><circle cx="1192.9" cy="883.4" r="3.9"/><circle cx="1190.6" cy="885.4" r="3.9"/><circle cx="1189.4" cy="884.8" r="3.9"/><circle cx="1187.7" cy="883" r="3.9"/><circle cx="1185.6" cy="882.1" r="3.9"/><circle cx="1182.8" cy="883.6" r="3.9"/><circle cx="1183" cy="878.3" r="3.9"/><circle cx="1180.5" cy="880.7" r="3.9"/><circle cx="1178.9" cy="878" r="3.9"/><circle cx="1176.8" cy="882.5" r="3.9"/><circle cx="1175.3" cy="879.9" r="3.9"/><circle cx="1174.7" cy="876.8" r="3.9"/><circle cx="1171.7" cy="875.8" r="3.9"/><circle cx="1170.3" cy="879.2" r="3.9"/><circle cx="1168.2" cy="875.3" r="3.9"/><circle cx="1165.5" cy="879.8" r="3.9"/><circle cx="1163.8" cy="879.8" r="3.9"/><circle cx="1163.5" cy="874.3" r="3.9"/><circle cx="1160.5" cy="876.3" r="3.9"/><circle cx="1160" cy="876.7" r="3.9"/><circle cx="1158" cy="873.9" r="3.9"/><circle cx="1156.4" cy="875.2" r="3.9"/><circle cx="1154.1" cy="872.5" r="3.9"/><circle cx="1152.5" cy="872.7" r="3.9"/><circle cx="1150.3" cy="873.4" r="3.9"/><circle cx="1148.5" cy="874.1" r="3.9"/><circle cx="1146.2" cy="873.5" r="3.9"/><circle cx="1145" cy="874.6" r="3.9"/><circle cx="1142.4" cy="875.1" r="3.9"/><circle cx="1142" cy="869.9" r="3.9"/><circle cx="1139.5" cy="872.3" r="3.9"/><circle cx="1138.4" cy="868.2" r="3.9"/><circle cx="1137.5" cy="869.5" r="3.9"/><circle cx="1134.3" cy="872" r="3.9"/><circle cx="1133.9" cy="867.4" r="3.9"/><circle cx="1130.5" cy="869.8" r="3.9"/><circle cx="1129.4" cy="869" r="3.9"/><circle cx="1127.9" cy="866.7" r="3.9"/><circle cx="1126.2" cy="868.6" r="3.9"/><circle cx="1124.6" cy="865.2" r="3.9"/><circle cx="1122.6" cy="868" r="3.9"/><circle cx="1121" cy="863.6" r="3.9"/><circle cx="1120.2" cy="863.1" r="3.9"/><circle cx="1117.4" cy="867" r="3.9"/><circle cx="1114.7" cy="866.7" r="3.9"/><circle cx="1114" cy="863.4" r="3.9"/><circle cx="1112.1" cy="864.7" r="3.9"/><circle cx="1111.3" cy="861.7" r="3.9"/><circle cx="1108" cy="867.6" r="3.9"/><circle cx="1106.7" cy="864.1" r="3.9"/><circle cx="1105.4" cy="861" r="3.9"/><circle cx="1103.8" cy="863.4" r="3.9"/><circle cx="1101.4" cy="863.1" r="3.9"/><circle cx="1100.3" cy="862.3" r="3.9"/><circle cx="1098.6" cy="860.8" r="3.9"/><circle cx="1095.4" cy="862.1" r="3.9"/><circle cx="1094.8" cy="859.9" r="3.9"/><circle cx="1093.5" cy="859" r="3.9"/><circle cx="1089.9" cy="863.1" r="3.9"/><circle cx="1089" cy="863.2" r="3.9"/><circle cx="1086.2" cy="862.4" r="3.9"/><circle cx="1086.2" cy="857.5" r="3.9"/><circle cx="1083.4" cy="862.1" r="3.9"/><circle cx="1082.5" cy="856.9" r="3.9"/><circle cx="1079.9" cy="861.2" r="3.9"/><circle cx="1078.7" cy="858.2" r="3.9"/><circle cx="1078.3" cy="853.8" r="3.9"/><circle cx="1075.3" cy="853.9" r="3.9"/><circle cx="1073.2" cy="857.4" r="3.9"/><circle cx="1071.6" cy="859.4" r="3.9"/><circle cx="1069.2" cy="856.8" r="3.9"/><circle cx="1067.5" cy="856.1" r="3.9"/><circle cx="1067.1" cy="852.2" r="3.9"/><circle cx="1064.6" cy="854" r="3.9"/><circle cx="1062" cy="856.2" r="3.9"/><circle cx="1062.2" cy="851.2" r="3.9"/><circle cx="1059.6" cy="850.7" r="3.9"/><circle cx="1056.6" cy="853.7" r="3.9"/><circle cx="1055.8" cy="851.6" r="3.9"/><circle cx="1054.2" cy="851.6" r="3.9"/><circle cx="1052.4" cy="850.6" r="3.9"/><circle cx="1050.6" cy="849.2" r="3.9"/><circle cx="1049.5" cy="848.4" r="3.9"/><circle cx="1046.5" cy="851.4" r="3.9"/><circle cx="1045.4" cy="849.1" r="3.9"/><circle cx="1043.5" cy="848.5" r="3.9"/><circle cx="1042.3" cy="849.4" r="3.9"/><circle cx="1040.4" cy="849" r="3.9"/><circle cx="1038.8" cy="846.6" r="3.9"/><circle cx="1037.3" cy="847.8" r="3.9"/><circle cx="1035.5" cy="847.5" r="3.9"/><circle cx="1032.7" cy="848.7" r="3.9"/><circle cx="1030.8" cy="845.8" r="3.9"/><circle cx="1029.2" cy="844.6" r="3.9"/><circle cx="1027.4" cy="845.4" r="3.9"/><circle cx="1026.4" cy="843.9" r="3.9"/><circle cx="1024.5" cy="844.1" r="3.9"/><circle cx="1022.9" cy="844.3" r="3.9"/><circle cx="1020.1" cy="845.4" r="3.9"/><circle cx="1018.6" cy="842.9" r="3.9"/><circle cx="1017" cy="842.2" r="3.9"/><circle cx="1014.5" cy="845.2" r="3.9"/><circle cx="1014.6" cy="842.4" r="3.9"/><circle cx="1012.1" cy="843.5" r="3.9"/><circle cx="1010.6" cy="843.9" r="3.9"/><circle cx="1007.9" cy="841.6" r="3.9"/><circle cx="1006.5" cy="844" r="3.9"/><circle cx="1005" cy="843.8" r="3.9"/><circle cx="1002.4" cy="842.3" r="3.9"/><circle cx="1001" cy="840.8" r="3.9"/><circle cx="999" cy="840.5" r="3.9"/><circle cx="997.9" cy="838.7" r="3.9"/><circle cx="995.8" cy="838.4" r="3.9"/><circle cx="995.3" cy="838.4" r="3.9"/><circle cx="991.7" cy="839.2" r="3.9"/><circle cx="990.9" cy="839" r="3.9"/><circle cx="988.8" cy="839.1" r="3.9"/><circle cx="986.8" cy="839.1" r="3.9"/><circle cx="985.7" cy="836.1" r="3.9"/><circle cx="983.4" cy="835.7" r="3.9"/><circle cx="981.7" cy="834.8" r="3.9"/><circle cx="981.4" cy="834.4" r="3.9"/><circle cx="978.9" cy="833.9" r="3.9"/><circle cx="976.4" cy="836.1" r="3.9"/><circle cx="975.2" cy="834" r="3.9"/><circle cx="972.9" cy="832.8" r="3.9"/><circle cx="972" cy="834.5" r="3.9"/><circle cx="969.8" cy="833.7" r="3.9"/><circle cx="967" cy="835.3" r="3.9"/><circle cx="966.6" cy="834.5" r="3.9"/><circle cx="964.2" cy="831.7" r="3.9"/><circle cx="962.1" cy="831" r="3.9"/><circle cx="961.6" cy="832.2" r="3.9"/><circle cx="959.6" cy="832.9" r="3.9"/><circle cx="956.7" cy="831.1" r="3.9"/><circle cx="955.3" cy="832.2" r="3.9"/><circle cx="953.9" cy="832.3" r="3.9"/><circle cx="952.2" cy="832.3" r="3.9"/><circle cx="949.3" cy="831.3" r="3.9"/><circle cx="947.8" cy="830" r="3.9"/><circle cx="947.1" cy="829.9" r="3.9"/><circle cx="944.9" cy="829.3" r="3.9"/><circle cx="942.8" cy="831.2" r="3.9"/><circle cx="941.2" cy="830.7" r="3.9"/><circle cx="939.3" cy="830.1" r="3.9"/><circle cx="937.5" cy="828.7" r="3.9"/><circle cx="935.7" cy="826.9" r="3.9"/><circle cx="934.7" cy="828.7" r="3.9"/><circle cx="933" cy="827.5" r="3.9"/><circle cx="931.3" cy="824.8" r="3.9"/><circle cx="928.1" cy="826.9" r="3.9"/><circle cx="927.2" cy="823.6" r="3.9"/><circle cx="925.7" cy="824.8" r="3.9"/><circle cx="923.5" cy="825.8" r="3.9"/><circle cx="921.9" cy="825.2" r="3.9"/><circle cx="920.3" cy="823.3" r="3.9"/><circle cx="918.3" cy="824" r="3.9"/><circle cx="916.1" cy="823.4" r="3.9"/><circle cx="915.6" cy="823.1" r="3.9"/><circle cx="914.1" cy="821.6" r="3.9"/><circle cx="912" cy="823" r="3.9"/><circle cx="910.5" cy="820.7" r="3.9"/><circle cx="908.7" cy="819.8" r="3.9"/><circle cx="906.7" cy="820.7" r="3.9"/><circle cx="904.1" cy="820.3" r="3.9"/><circle cx="902.4" cy="820.4" r="3.9"/><circle cx="901.1" cy="818" r="3.9"/><circle cx="899.4" cy="816" r="3.9"/><circle cx="897.5" cy="816.8" r="3.9"/><circle cx="896.6" cy="816.7" r="3.9"/><circle cx="893.7" cy="815.9" r="3.9"/><circle cx="892.6" cy="817.5" r="3.9"/><circle cx="890.2" cy="814.6" r="3.9"/><circle cx="889.3" cy="815.8" r="3.9"/><circle cx="886.8" cy="815" r="3.9"/><circle cx="885.1" cy="815.6" r="3.9"/><circle cx="882.6" cy="816.1" r="3.9"/><circle cx="881.5" cy="816.4" r="3.9"/><circle cx="879.7" cy="818.6" r="3.9"/><circle cx="880.4" cy="818.9" r="3.9"/><circle cx="820.7" cy="654" r="3.9"/><circle cx="819.5" cy="655.9" r="3.9"/><circle cx="818.1" cy="657.1" r="3.9"/><circle cx="817.3" cy="656.9" r="3.9"/><circle cx="815.4" cy="654.2" r="3.9"/><circle cx="812.9" cy="656" r="3.9"/><circle cx="812" cy="654.5" r="3.9"/><circle cx="809.8" cy="654.2" r="3.9"/><circle cx="807.6" cy="656.1" r="3.9"/><circle cx="806.6" cy="653.1" r="3.9"/><circle cx="804.1" cy="655.9" r="3.9"/><circle cx="801.7" cy="654.3" r="3.9"/><circle cx="801.2" cy="651.5" r="3.9"/><circle cx="798.4" cy="651.9" r="3.9"/><circle cx="798" cy="651.5" r="3.9"/><circle cx="796" cy="650.8" r="3.9"/><circle cx="794.2" cy="650.7" r="3.9"/><circle cx="791.7" cy="651.3" r="3.9"/><circle cx="790.7" cy="650" r="3.9"/><circle cx="788.2" cy="649.4" r="3.9"/><circle cx="786.9" cy="648.7" r="3.9"/><circle cx="784.6" cy="648.1" r="3.9"/><circle cx="784" cy="647.8" r="3.9"/><circle cx="781.5" cy="650.2" r="3.9"/><circle cx="778.7" cy="649.5" r="3.9"/><circle cx="777.4" cy="648.1" r="3.9"/><circle cx="776.7" cy="647.7" r="3.9"/><circle cx="774.9" cy="646.3" r="3.9"/><circle cx="772.9" cy="647" r="3.9"/><circle cx="771.6" cy="644.8" r="3.9"/><circle cx="770.2" cy="643.8" r="3.9"/><circle cx="766.7" cy="645.1" r="3.9"/><circle cx="766.5" cy="643.9" r="3.9"/><circle cx="764" cy="644.5" r="3.9"/><circle cx="763.2" cy="642.1" r="3.9"/><circle cx="760" cy="644.8" r="3.9"/><circle cx="757.7" cy="644.1" r="3.9"/><circle cx="757.4" cy="640.5" r="3.9"/><circle cx="755.5" cy="640.8" r="3.9"/><circle cx="753.1" cy="641.3" r="3.9"/><circle cx="752.3" cy="641" r="3.9"/><circle cx="750.1" cy="639.1" r="3.9"/><circle cx="747.7" cy="640.7" r="3.9"/><circle cx="747" cy="637.8" r="3.9"/><circle cx="745.7" cy="637.6" r="3.9"/><circle cx="743.3" cy="639.2" r="3.9"/><circle cx="741.8" cy="639.3" r="3.9"/><circle cx="739.2" cy="638.2" r="3.9"/><circle cx="738.1" cy="634.8" r="3.9"/><circle cx="736.7" cy="637.6" r="3.9"/><circle cx="735.2" cy="635.8" r="3.9"/><circle cx="732.6" cy="636.3" r="3.9"/><circle cx="731.2" cy="633.6" r="3.9"/><circle cx="729" cy="633.1" r="3.9"/><circle cx="727.1" cy="633.5" r="3.9"/><circle cx="724.8" cy="634.4" r="3.9"/><circle cx="724.3" cy="635.8" r="3.9"/><circle cx="722.5" cy="634.4" r="3.9"/><circle cx="719.9" cy="634.8" r="3.9"/><circle cx="718.3" cy="635.2" r="3.9"/><circle cx="717" cy="631.7" r="3.9"/><circle cx="715.5" cy="633.6" r="3.9"/><circle cx="713.7" cy="631.1" r="3.9"/><circle cx="711.3" cy="634.1" r="3.9"/><circle cx="710.3" cy="632.4" r="3.9"/><circle cx="708" cy="632.4" r="3.9"/><circle cx="705.9" cy="630.9" r="3.9"/><circle cx="704.6" cy="631.1" r="3.9"/><circle cx="702.8" cy="629.2" r="3.9"/><circle cx="701.3" cy="631.4" r="3.9"/><circle cx="698.9" cy="632" r="3.9"/><circle cx="697.8" cy="628.7" r="3.9"/><circle cx="696" cy="629" r="3.9"/><circle cx="695.1" cy="626.6" r="3.9"/><circle cx="692.1" cy="625.9" r="3.9"/><circle cx="689.9" cy="627.1" r="3.9"/><circle cx="690.2" cy="624.4" r="3.9"/><circle cx="687" cy="626.9" r="3.9"/><circle cx="685" cy="624.3" r="3.9"/><circle cx="684.1" cy="624.9" r="3.9"/><circle cx="682.1" cy="623.1" r="3.9"/><circle cx="680.5" cy="622" r="3.9"/><circle cx="678.7" cy="622.5" r="3.9"/><circle cx="677.6" cy="620.5" r="3.9"/><circle cx="675.7" cy="620.8" r="3.9"/><circle cx="674.1" cy="622.3" r="3.9"/><circle cx="672.2" cy="620.5" r="3.9"/><circle cx="669.2" cy="621.8" r="3.9"/><circle cx="668.7" cy="620.4" r="3.9"/><circle cx="666.4" cy="619" r="3.9"/><circle cx="664.3" cy="621.4" r="3.9"/><circle cx="662.7" cy="617.8" r="3.9"/><circle cx="660.8" cy="618" r="3.9"/><circle cx="658.5" cy="619.4" r="3.9"/><circle cx="657.2" cy="619.2" r="3.9"/><circle cx="657" cy="616.2" r="3.9"/><circle cx="653.5" cy="618.9" r="3.9"/><circle cx="652.3" cy="615.3" r="3.9"/><circle cx="650.3" cy="617.4" r="3.9"/><circle cx="648" cy="617.5" r="3.9"/><circle cx="646.9" cy="615.8" r="3.9"/><circle cx="645.8" cy="612.9" r="3.9"/><circle cx="644" cy="615.7" r="3.9"/><circle cx="642.6" cy="614" r="3.9"/><circle cx="641" cy="612.7" r="3.9"/><circle cx="638" cy="613" r="3.9"/><circle cx="637.4" cy="610.8" r="3.9"/><circle cx="635.7" cy="611.1" r="3.9"/><circle cx="633.7" cy="609.5" r="3.9"/><circle cx="632.4" cy="610.8" r="3.9"/><circle cx="630" cy="609.2" r="3.9"/><circle cx="628.4" cy="608.1" r="3.9"/><circle cx="626.6" cy="606.9" r="3.9"/><circle cx="625.8" cy="606.3" r="3.9"/><circle cx="624" cy="607.8" r="3.9"/><circle cx="621.1" cy="607.1" r="3.9"/><circle cx="619.7" cy="607.5" r="3.9"/><circle cx="618.9" cy="604.4" r="3.9"/><circle cx="617" cy="605.4" r="3.9"/><circle cx="614.2" cy="606.1" r="3.9"/><circle cx="614" cy="603.7" r="3.9"/><circle cx="611.8" cy="603.3" r="3.9"/><circle cx="609.7" cy="602.2" r="3.9"/><circle cx="608.9" cy="601.1" r="3.9"/><circle cx="605.8" cy="602.6" r="3.9"/><circle cx="604.9" cy="600.1" r="3.9"/><circle cx="603" cy="602.1" r="3.9"/><circle cx="601.3" cy="599.8" r="3.9"/><circle cx="600.5" cy="598.8" r="3.9"/><circle cx="597.1" cy="599.8" r="3.9"/><circle cx="595.4" cy="599.4" r="3.9"/><circle cx="595.2" cy="597.3" r="3.9"/><circle cx="593.4" cy="595.8" r="3.9"/><circle cx="591.3" cy="596.1" r="3.9"/><circle cx="589.8" cy="596.1" r="3.9"/><circle cx="589" cy="593.4" r="3.9"/><circle cx="586" cy="595.1" r="3.9"/><circle cx="585.1" cy="591.9" r="3.9"/><circle cx="584.3" cy="590.9" r="3.9"/><circle cx="582.2" cy="590.8" r="3.9"/><circle cx="580.5" cy="590.5" r="3.9"/><circle cx="577.7" cy="591.7" r="3.9"/><circle cx="576.9" cy="588.7" r="3.9"/><circle cx="573.7" cy="589.3" r="3.9"/><circle cx="573.7" cy="587.8" r="3.9"/><circle cx="570.6" cy="588" r="3.9"/><circle cx="568.7" cy="587.4" r="3.9"/><circle cx="569.1" cy="585.5" r="3.9"/><circle cx="566.8" cy="583.9" r="3.9"/><circle cx="564.6" cy="583.3" r="3.9"/><circle cx="563.7" cy="582.1" r="3.9"/><circle cx="560.9" cy="584.6" r="3.9"/><circle cx="559.1" cy="583" r="3.9"/><circle cx="557.6" cy="582.5" r="3.9"/><circle cx="557.5" cy="580.1" r="3.9"/><circle cx="554.9" cy="581.2" r="3.9"/><circle cx="552.6" cy="579.6" r="3.9"/><circle cx="552.2" cy="576.9" r="3.9"/><circle cx="550.3" cy="577.4" r="3.9"/><circle cx="548.9" cy="577.1" r="3.9"/><circle cx="547.3" cy="576.3" r="3.9"/><circle cx="546.5" cy="573" r="3.9"/><circle cx="543.7" cy="575.2" r="3.9"/><circle cx="541.7" cy="574.2" r="3.9"/><circle cx="540.3" cy="571.5" r="3.9"/><circle cx="540.1" cy="570.4" r="3.9"/><circle cx="537.9" cy="569.5" r="3.9"/><circle cx="536.5" cy="569" r="3.9"/><circle cx="534.7" cy="569.4" r="3.9"/><circle cx="534.6" cy="565.7" r="3.9"/><circle cx="532.3" cy="564.6" r="3.9"/><circle cx="530.4" cy="563.5" r="3.9"/><circle cx="527.9" cy="564.5" r="3.9"/><circle cx="527" cy="564.2" r="3.9"/><circle cx="525.6" cy="562.2" r="3.9"/><circle cx="522.9" cy="562.5" r="3.9"/><circle cx="521.5" cy="561.6" r="3.9"/><circle cx="520.2" cy="562" r="3.9"/><circle cx="518.7" cy="559.9" r="3.9"/><circle cx="516.9" cy="560.6" r="3.9"/><circle cx="514.6" cy="559.6" r="3.9"/><circle cx="514.1" cy="557.8" r="3.9"/><circle cx="513.2" cy="555.5" r="3.9"/><circle cx="511.8" cy="555" r="3.9"/><circle cx="509.5" cy="555" r="3.9"/><circle cx="506" cy="556.5" r="3.9"/><circle cx="505.2" cy="556.4" r="3.9"/><circle cx="504.4" cy="552.9" r="3.9"/><circle cx="501.6" cy="553.8" r="3.9"/><circle cx="500.1" cy="553.6" r="3.9"/><circle cx="499.4" cy="549.5" r="3.9"/><circle cx="496" cy="552.4" r="3.9"/><circle cx="495.9" cy="550.9" r="3.9"/><circle cx="494.3" cy="548.2" r="3.9"/><circle cx="491" cy="550" r="3.9"/><circle cx="490.4" cy="549.5" r="3.9"/><circle cx="489.6" cy="547.7" r="3.9"/><circle cx="488.4" cy="545.2" r="3.9"/><circle cx="486" cy="546.2" r="3.9"/><circle cx="482.8" cy="546.4" r="3.9"/><circle cx="482.4" cy="544.2" r="3.9"/><circle cx="479.7" cy="544.7" r="3.9"/><circle cx="478.6" cy="544.9" r="3.9"/><circle cx="478.7" cy="541.5" r="3.9"/><circle cx="477.1" cy="539.1" r="3.9"/><circle cx="475" cy="538.9" r="3.9"/><circle cx="474.3" cy="538" r="3.9"/><circle cx="470.1" cy="538.7" r="3.9"/><circle cx="469.6" cy="537.9" r="3.9"/><circle cx="467.7" cy="535.8" r="3.9"/><circle cx="468.3" cy="533.9" r="3.9"/><circle cx="465" cy="533.5" r="3.9"/><circle cx="465.1" cy="531.4" r="3.9"/><circle cx="461.4" cy="533.1" r="3.9"/><circle cx="462" cy="530.7" r="3.9"/><circle cx="459.9" cy="529.9" r="3.9"/><circle cx="457.2" cy="529.5" r="3.9"/><circle cx="457.5" cy="526.2" r="3.9"/><circle cx="454.4" cy="528.2" r="3.9"/><circle cx="452.4" cy="526.8" r="3.9"/><circle cx="452.3" cy="524.9" r="3.9"/><circle cx="451.4" cy="523.4" r="3.9"/><circle cx="448.5" cy="522.6" r="3.9"/><circle cx="447.6" cy="520.6" r="3.9"/><circle cx="446" cy="520.8" r="3.9"/><circle cx="445.4" cy="519.4" r="3.9"/><circle cx="442.8" cy="520" r="3.9"/><circle cx="442" cy="517.2" r="3.9"/><circle cx="439.8" cy="518.6" r="3.9"/><circle cx="438.2" cy="515.3" r="3.9"/><circle cx="437.1" cy="516.4" r="3.9"/><circle cx="434.8" cy="515" r="3.9"/><circle cx="435.1" cy="512.4" r="3.9"/><circle cx="433.1" cy="511.9" r="3.9"/><circle cx="429.3" cy="512.6" r="3.9"/><circle cx="431" cy="508.8" r="3.9"/><circle cx="426.2" cy="510.3" r="3.9"/><circle cx="426.4" cy="509.3" r="3.9"/><circle cx="424.7" cy="507.9" r="3.9"/><circle cx="425.3" cy="504.3" r="3.9"/><circle cx="423.5" cy="502.8" r="3.9"/><circle cx="419.6" cy="503.9" r="3.9"/><circle cx="420.1" cy="500.8" r="3.9"/><circle cx="420.1" cy="499.6" r="3.9"/><circle cx="416.6" cy="501.1" r="3.9"/><circle cx="414.8" cy="499.7" r="3.9"/><circle cx="413.6" cy="499.1" r="3.9"/><circle cx="414.7" cy="495.3" r="3.9"/><circle cx="410.6" cy="497.1" r="3.9"/><circle cx="410.8" cy="494" r="3.9"/><circle cx="409.1" cy="492.8" r="3.9"/><circle cx="408.2" cy="491.6" r="3.9"/><circle cx="404.4" cy="491.1" r="3.9"/><circle cx="405" cy="488.6" r="3.9"/><circle cx="402.9" cy="487.4" r="3.9"/><circle cx="402.8" cy="485" r="3.9"/><circle cx="402.8" cy="484.4" r="3.9"/><circle cx="399.5" cy="483.5" r="3.9"/><circle cx="399" cy="481.7" r="3.9"/><circle cx="396.9" cy="481" r="3.9"/><circle cx="398" cy="478.4" r="3.9"/><circle cx="394.1" cy="478.6" r="3.9"/><circle cx="395" cy="476.9" r="3.9"/><circle cx="393.3" cy="474.4" r="3.9"/><circle cx="390.6" cy="474.9" r="3.9"/><circle cx="390.6" cy="472.1" r="3.9"/><circle cx="389.7" cy="472.3" r="3.9"/><circle cx="387.9" cy="469.3" r="3.9"/><circle cx="384.4" cy="470.4" r="3.9"/><circle cx="386" cy="467.7" r="3.9"/><circle cx="384.1" cy="466.6" r="3.9"/><circle cx="382.7" cy="465.7" r="3.9"/><circle cx="382.9" cy="463.9" r="3.9"/><circle cx="382" cy="462.1" r="3.9"/><circle cx="381.6" cy="460.2" r="3.9"/><circle cx="379" cy="458.3" r="3.9"/><circle cx="378.5" cy="458" r="3.9"/><circle cx="376.5" cy="457.4" r="3.9"/><circle cx="374.4" cy="456.8" r="3.9"/><circle cx="374.3" cy="454.2" r="3.9"/><circle cx="372.2" cy="452.6" r="3.9"/><circle cx="371.7" cy="450.9" r="3.9"/><circle cx="369.8" cy="450.1" r="3.9"/><circle cx="372.6" cy="446.7" r="3.9"/><circle cx="371.5" cy="445.4" r="3.9"/><circle cx="370.4" cy="444.4" r="3.9"/><circle cx="368.5" cy="442.2" r="3.9"/><circle cx="365.7" cy="442" r="3.9"/><circle cx="363.7" cy="440.8" r="3.9"/><circle cx="366.6" cy="438.1" r="3.9"/><circle cx="363.4" cy="437.8" r="3.9"/><circle cx="364.1" cy="435.4" r="3.9"/><circle cx="362.8" cy="433.4" r="3.9"/><circle cx="359.6" cy="434" r="3.9"/><circle cx="359.1" cy="431.8" r="3.9"/><circle cx="358.2" cy="430" r="3.9"/><circle cx="358.8" cy="426.7" r="3.9"/><circle cx="356.7" cy="426.9" r="3.9"/><circle cx="356" cy="425.8" r="3.9"/><circle cx="354.5" cy="424.6" r="3.9"/><circle cx="354.3" cy="422.6" r="3.9"/><circle cx="351.3" cy="420.8" r="3.9"/><circle cx="351.6" cy="419.9" r="3.9"/><circle cx="349.8" cy="417.7" r="3.9"/><circle cx="351" cy="416.4" r="3.9"/><circle cx="348.8" cy="414.5" r="3.9"/><circle cx="349" cy="412.8" r="3.9"/><circle cx="348.3" cy="411.4" r="3.9"/>
</g>
<g fill="#fff" stroke="#f00" stroke-width="2.1">
<circle cx="879" cy="818" r="4.2"/><circle cx="876.6" cy="817.2" r="4.2"/><circle cx="875.4" cy="815.3" r="4.2"/><circle cx="876.1" cy="814.4" r="4.2"/><circle cx="873.9" cy="812.5" r="4.2"/><circle cx="872.9" cy="810.6" r="4.2"/><circle cx="871" cy="807.8" r="4.2"/><circle cx="869.3" cy="805.8" r="4.2"/><circle cx="869.2" cy="804" r="4.2"/><circle cx="867.5" cy="802.4" r="4.2"/><circle cx="869.2" cy="800.7" r="4.2"/><circle cx="866" cy="798.8" r="4.2"/><circle cx="864.7" cy="796" r="4.2"/><circle cx="864.1" cy="794.5" r="4.2"/><circle cx="864.4" cy="792.5" r="4.2"/><circle cx="863.5" cy="790.1" r="4.2"/><circle cx="863.2" cy="788.5" r="4.2"/><circle cx="861.9" cy="786.1" r="4.2"/><circle cx="860.9" cy="784.4" r="4.2"/><circle cx="860.1" cy="783.1" r="4.2"/><circle cx="858.7" cy="780.4" r="4.2"/><circle cx="855.9" cy="778.2" r="4.2"/><circle cx="858" cy="776.1" r="4.2"/><circle cx="856.4" cy="774.6" r="4.2"/><circle cx="855.6" cy="772" r="4.2"/><circle cx="853.2" cy="769.9" r="4.2"/><circle cx="855.1" cy="768.1" r="4.2"/><circle cx="853.3" cy="766.3" r="4.2"/><circle cx="851" cy="763.7" r="4.2"/><circle cx="849.5" cy="762.6" r="4.2"/><circle cx="849" cy="760.7" r="4.2"/><circle cx="848.9" cy="758.4" r="4.2"/><circle cx="847.3" cy="756.5" r="4.2"/><circle cx="846.8" cy="753.9" r="4.2"/><circle cx="846.8" cy="751.6" r="4.2"/><circle cx="845.1" cy="750.4" r="4.2"/><circle cx="844.4" cy="747.8" r="4.2"/><circle cx="845.2" cy="745.6" r="4.2"/><circle cx="842.7" cy="743.5" r="4.2"/><circle cx="842.7" cy="741.6" r="4.2"/><circle cx="842.9" cy="739.6" r="4.2"/><circle cx="843" cy="737" r="4.2"/><circle cx="841.7" cy="735.8" r="4.2"/><circle cx="839.7" cy="732.7" r="4.2"/><circle cx="839.8" cy="730.7" r="4.2"/><circle cx="839.2" cy="729.3" r="4.2"/><circle cx="837.4" cy="726.5" r="4.2"/><circle cx="838" cy="724.4" r="4.2"/><circle cx="836.6" cy="722.6" r="4.2"/><circle cx="835.7" cy="720.1" r="4.2"/><circle cx="835.9" cy="718.4" r="4.2"/><circle cx="837.1" cy="716.4" r="4.2"/><circle cx="833.7" cy="713.9" r="4.2"/><circle cx="835.3" cy="712.2" r="4.2"/><circle cx="835" cy="710.6" r="4.2"/><circle cx="834.3" cy="707.5" r="4.2"/><circle cx="833.9" cy="705.9" r="4.2"/><circle cx="831" cy="703.3" r="4.2"/><circle cx="832.4" cy="701.3" r="4.2"/><circle cx="829.2" cy="699.3" r="4.2"/><circle cx="831.3" cy="697.4" r="4.2"/><circle cx="830" cy="694.8" r="4.2"/><circle cx="828.4" cy="693" r="4.2"/><circle cx="827" cy="691.3" r="4.2"/><circle cx="827" cy="688.5" r="4.2"/><circle cx="828.5" cy="686.8" r="4.2"/><circle cx="825.4" cy="684.1" r="4.2"/><circle cx="826.4" cy="682.6" r="4.2"/><circle cx="823.9" cy="680.4" r="4.2"/><circle cx="825.7" cy="678.3" r="4.2"/><circle cx="823.7" cy="676.1" r="4.2"/><circle cx="824.6" cy="674.1" r="4.2"/><circle cx="822.8" cy="672.1" r="4.2"/><circle cx="825" cy="669.9" r="4.2"/><circle cx="824.4" cy="667.2" r="4.2"/><circle cx="824.3" cy="664.8" r="4.2"/><circle cx="821.8" cy="663.2" r="4.2"/><circle cx="823.7" cy="660.4" r="4.2"/><circle cx="821.2" cy="658.1" r="4.2"/><circle cx="821.6" cy="656.1" r="4.2"/>
</g>
<circle cx="821.5" cy="655" r="5.6" fill="#f00"/>
<g fill="#fff" stroke="#f00" stroke-width="2">
<circle cx="347.8" cy="411.2" r="3.9"/>
</g>
</g>
<g id="ar-squares">
<path fill="#000" d="M347 62L347 68L353 68L353 75L356 75L356 82L360 82L360 97L364 97L364 105L367 105L367 112L370 112L370 119L374 119L374 127L376 127L376 134L379 134L379 141L384 141L384 149L386 149L386 156L390 156L390 160L399 160L399 165L404 165L404 181L408 181L408 185L409 185L409 187L413 187L413 200L414 200L414 202L418 202L418 205L422 205L422 212L427 212L427 222L432 222L432 229L436 229L436 234L441 234L441 243L446 243L446 249L450 249L450 259L455 259L455 263L460 263L460 271L464 271L464 278L469 278L469 293L473 293L473 312L483 312L483 326L487 326L487 333L492 333L492 334L497 334L497 339L501 339L501 354L506 354L506 355L511 355L511 359L515 359L515 364L520 364L520 370L525 370L525 379L529 379L529 381L534 381L534 389L543 389L543 399L548 399L548 412L552 412L552 430L557 430L557 439L562 439L562 449L566 449L566 452L571 452L571 453L576 453L576 465L580 465L580 471L585 471L585 477L590 477L590 482L594 482L594 483L596 483L596 507L579 507L579 498L576 498L576 497L571 497L571 491L566 491L566 482L562 482L562 479L557 479L557 469L552 469L552 466L548 466L548 455L543 455L543 448L538 448L538 423L534 423L534 411L524 411L524 410L520 410L520 402L515 402L515 401L511 401L511 397L506 397L506 388L501 388L501 380L497 380L497 375L492 375L492 366L485 366L485 350L471 350L471 346L469 346L469 339L464 339L464 319L459 319L459 315L455 315L455 299L450 299L450 292L445 292L445 289L441 289L441 285L436 285L436 270L431 270L431 266L427 266L427 254L422 254L422 252L418 252L418 247L413 247L413 233L408 233L408 226L404 226L404 216L401 216L401 213L399 213L399 211L394 211L394 201L390 201L390 195L385 195L385 182L383 182L383 179L381 179L381 176L380 176L380 172L376 172L376 165L372 165L372 157L369 157L369 150L368 150L368 143L361 143L361 135L358 135L358 128L357 128L357 120L353 120L353 113L350 113L350 106L347 106L347 98L344 98L344 91L341 91L341 84L339 84L339 76L336 76L336 71L334 71L334 62z"/>
<rect x="349" y="62" width="1" height="6" fill="#000"/>
<path fill="#fff" d="M337 67h6v1h-6zM350 69h1v6h-1zM353 77h1v5h-1zM357 84h1v5h-1zM361 99h2v5h-2zM362 107h1v6h-1zM354 114h6v1h-6zM367 113h1v6h-1zM371 121h1v5h-1zM362 140h2v1h-2zM379 143h3v5h-3zM371 148h5v1h-5zM379 170h6v1h-6zM407 217h6v1h-6z"/>
<path fill="#000" d="M648 766h17v17h-17zM657 770h17v17h-17zM666 774h17v17h-17zM674 776h17v17h-17zM682 780h17v17h-17zM691 784h17v17h-17zM700 788h17v17h-17zM708 792h17v17h-17zM716 796h17v17h-17zM725 798h17v17h-17zM734 800h17v17h-17zM742 804h17v17h-17zM750 806h17v17h-17zM759 808h17v17h-17zM766 810h17v17h-17zM772 812h17v17h-17zM778 814h17v17h-17zM785 816h17v17h-17zM792 818h17v17h-17zM798 820h17v17h-17zM804 822h17v17h-17zM811 822h17v17h-17zM818 824h17v17h-17zM824 826h17v17h-17zM830 828h17v17h-17zM837 828h17v17h-17zM844 830h17v17h-17zM850 832h17v17h-17zM856 832h17v17h-17zM863 834h17v17h-17zM870 836h17v17h-17zM876 836h17v17h-17zM882 838h17v17h-17zM889 840h17v17h-17zM896 840h17v17h-17zM902 842h17v17h-17zM908 844h17v17h-17zM915 846h17v17h-17zM922 846h17v17h-17zM928 848h17v17h-17zM934 850h17v17h-17zM941 850h17v17h-17zM948 852h17v17h-17zM954 852h17v17h-17zM960 854h17v17h-17zM967 856h17v17h-17zM974 856h17v17h-17zM980 858h17v17h-17zM986 858h17v17h-17zM993 860h17v17h-17zM1000 862h17v17h-17zM1006 862h17v17h-17zM1012 864h17v17h-17zM1019 864h17v17h-17zM1026 866h17v17h-17zM1032 866h17v17h-17zM1038 868h17v17h-17zM1045 870h17v17h-17zM1052 870h17v17h-17zM1058 872h17v17h-17zM1064 874h17v17h-17zM1071 874h17v17h-17zM1078 876h17v17h-17zM1084 876h17v17h-17zM1090 878h17v17h-17zM1097 878h17v17h-17zM1104 880h17v17h-17zM1110 880h17v17h-17zM1116 882h17v17h-17zM1123 882h17v17h-17zM1130 882h17v17h-17zM1136 884h17v17h-17zM1142 884h17v17h-17zM1149 886h17v17h-17zM1156 886h17v17h-17zM1162 888h17v17h-17zM1168 888h17v17h-17zM1175 888h17v17h-17zM1182 888h17v17h-17zM1188 890h17v17h-17zM1194 890h17v17h-17zM1201 890h17v17h-17zM1208 892h17v17h-17zM1214 892h17v17h-17zM1220 892h17v17h-17zM1227 892h17v17h-17zM1234 894h17v17h-17zM1240 894h17v17h-17zM1246 894h17v17h-17zM1253 894h17v17h-17zM1260 896h17v17h-17zM1266 896h17v17h-17zM1272 896h17v17h-17zM1279 896h17v17h-17zM1286 896h17v17h-17zM1292 898h17v17h-17zM1298 898h17v17h-17zM1305 898h17v17h-17zM1312 898h17v17h-17zM1318 898h17v17h-17zM1324 898h17v17h-17zM1331 900h17v17h-17zM1338 900h17v17h-17zM1344 900h17v17h-17zM1350 900h17v17h-17zM1357 900h17v17h-17zM1364 900h17v17h-17zM1370 900h17v17h-17zM1376 902h17v17h-17zM1383 902h17v17h-17zM1390 902h17v17h-17zM1396 902h17v17h-17zM1402 902h17v17h-17zM1409 902h17v17h-17zM1416 902h17v17h-17zM1422 904h17v17h-17zM1428 904h17v17h-17zM1435 904h17v17h-17zM1442 904h17v17h-17zM1448 904h17v17h-17zM1454 904h17v17h-17zM1461 906h17v17h-17zM1468 906h17v17h-17zM1474 906h17v17h-17zM1480 906h17v17h-17zM1487 906h17v17h-17zM1494 906h17v17h-17zM1500 908h17v17h-17zM1506 908h17v17h-17zM1507 908h17v17h-17z"/>
<path fill="#000" d="M468 350h17v17h-17zM480 401h17v17h-17zM493 451h17v17h-17zM506 502h17v17h-17zM518 553h17v17h-17zM531 604h17v17h-17zM543 655h17v17h-17zM556 706h17v17h-17zM564 737h17v17h-17z"/>
<path fill="#000" d="M579 490h17v17h-17zM598 556h17v17h-17zM621 659h17v17h-17zM639 729h17v17h-17zM648 766h17v17h-17z"/>
</g>
<g id="navy">
<path fill="#000080" d="M346.1 546.9l10 16.8h-20zM357.4 556l10 16.8h-20zM368.8 564.9l10 16.8h-20zM380.1 572.9l10 16.8h-20zM391.4 581.3l10 16.8h-20zM402.8 588.1l10 16.8h-20zM414.1 594.8l10 16.8h-20zM425.5 601.8l10 16.8h-20zM436.8 607.7l10 16.8h-20zM448.1 614l10 16.8h-20zM459.5 618.9l10 16.8h-20zM470.8 624.1l10 16.8h-20zM482.1 628.7l10 16.8h-20zM493.5 633.8l10 16.8h-20zM504.8 638l10 16.8h-20zM516.1 641.9l10 16.8h-20zM527.5 645.9l10 16.8h-20zM538.8 649.4l10 16.8h-20zM550.1 653.2l10 16.8h-20zM561.5 656.9l10 16.8h-20zM572.8 659.8l10 16.8h-20zM584.2 662.3l10 16.8h-20zM595.5 664.4l10 16.8h-20zM606.8 666.7l10 16.8h-20zM618.2 668.8l10 16.8h-20zM629.5 670.6l10 16.8h-20zM640.8 673.6l10 16.8h-20zM652.2 675.7l10 16.8h-20zM663.5 678.4l10 16.8h-20zM674.8 679.5l10 16.8h-20zM686.2 680.6l10 16.8h-20zM697.5 681.6l10 16.8h-20zM708.9 683.4l10 16.8h-20zM720.2 685.3l10 16.8h-20zM731.5 687.3l10 16.8h-20zM742.9 688.1l10 16.8h-20zM754.2 688.9l10 16.8h-20zM765.5 690l10 16.8h-20zM776.9 691.1l10 16.8h-20zM788.2 692.2l10 16.8h-20zM799.5 693.2l10 16.8h-20zM810.9 694.1l10 16.8h-20zM822.2 694.9l10 16.8h-20zM833.5 695.7l10 16.8h-20zM844.9 696.5l10 16.8h-20zM856.2 697l10 16.8h-20zM867.6 697.5l10 16.8h-20zM878.9 698.1l10 16.8h-20zM890.2 698.7l10 16.8h-20zM901.6 700.7l10 16.8h-20zM916 702.1l10 16.8h-20zM933.7 703.8l10 16.8h-20zM951.4 704.3l10 16.8h-20zM969.2 704.8l10 16.8h-20zM986.9 705.3l10 16.8h-20zM1004.6 706.9l10 16.8h-20zM1022.3 708.3l10 16.8h-20zM1040 709.6l10 16.8h-20zM1057.8 711l10 16.8h-20zM1075.5 712.4l10 16.8h-20zM1093.2 713.7l10 16.8h-20zM1110.9 715l10 16.8h-20zM1128.6 716.2l10 16.8h-20zM1146.4 717.4l10 16.8h-20zM1164.1 718.7l10 16.8h-20zM1181.8 719.9l10 16.8h-20zM1199.5 721.1l10 16.8h-20zM1217.2 722.2l10 16.8h-20zM1235 723.4l10 16.8h-20zM1252.7 724.6l10 16.8h-20zM1270.4 725.7l10 16.8h-20zM1288.1 726.8l10 16.8h-20zM1305.8 727.8l10 16.8h-20zM1323.6 728.8l10 16.8h-20zM1341.3 729.9l10 16.8h-20zM1359 730.9l10 16.8h-20zM1376.7 731.5l10 16.8h-20zM1394.4 732.1l10 16.8h-20zM1412.2 732.9l10 16.8h-20zM1429.9 733.7l10 16.8h-20zM1447.6 734.5l10 16.8h-20zM1465.3 735.3l10 16.8h-20zM1483 736.1l10 16.8h-20zM1500.8 736.9l10 16.8h-20zM1518.5 737.7l10 16.8h-20zM1536.2 738.5l10 16.8h-20zM1553.9 739.2l10 16.8h-20zM1571.6 740l10 16.8h-20zM1589.4 740.8l10 16.8h-20zM1607.1 741.6l10 16.8h-20zM1624.8 742.3l10 16.8h-20zM1642.5 743.1l10 16.8h-20z"/>
</g>
<g id="red-forward">
<path fill="#f00" d="M716.2 648.2L719.1 649L721.9 649.8L724.8 650.7L727.6 651.6L730.5 652.4L733.4 653.3L736.3 654.2L739.2 655.1L742.1 655.9L745.1 656.7L748 657.5L750.9 658.3L753.8 659.1L756.7 659.8L759.6 660.6L762.5 661.4L765.4 662.2L768.3 662.9L771.2 663.7L774.1 664.5L777 665.2L779.9 666L782.8 666.8L785.7 667.5L788.6 668.3L791.5 669.1L794.4 669.8L797.3 670.6L800.2 671.4L803.1 672.1L806.3 672.9L809.4 673.5L812.4 674.1L815.3 674.6L818.3 675.2L821 675.7L823.6 676.3L826.3 677.2L829.1 678.1L832 678.9L834.9 679.8L837.8 680.7L840.6 681.6L843.5 682.5L846.4 683.4L849.2 684.3L852.1 685.2L854.9 686.1L857.8 687L860.8 687.9L863.8 688.8L866.8 689.5L869.8 690.3L872.7 691L875.6 691.7L878.5 692.5L881.4 693.2L884.3 693.9L887.2 694.7L890.1 695.4L893 696.1L895.9 696.8L898.7 697.6L901.6 698.4L904.5 699.1L907.5 699.8L910.4 700.6L913.3 701.3L916.2 702.1L919.1 702.8L922 703.6L924.8 704.3L927.3 705L929.9 706L932.7 707L935.6 708L938.4 709L941.2 710.1L944 711.1L946.8 712.1L949.6 713.1L954.4 699.9L951.7 698.9L948.9 697.8L946 696.8L943.2 695.8L940.4 694.8L937.6 693.7L934.8 692.7L931.7 691.6L928.5 690.6L925.5 689.9L922.6 689.1L919.7 688.4L916.8 687.6L913.9 686.9L911 686.1L908.1 685.4L905.2 684.6L902.3 683.9L899.3 683.1L896.4 682.4L893.4 681.7L890.5 681L887.6 680.3L884.7 679.7L881.8 679L878.8 678.3L875.9 677.6L873 676.9L870.1 676.2L867.2 675.6L864.5 674.9L861.7 674L858.9 673.2L856 672.3L853.1 671.5L850.2 670.6L847.4 669.8L844.5 668.9L841.6 668.1L838.8 667.2L835.9 666.3L833 665.5L830.1 664.6L827.1 663.7L823.8 662.8L820.7 662.3L817.7 661.7L814.8 661.2L811.8 660.6L809.1 660.1L806.4 659.5L803.5 658.7L800.6 658L797.7 657.2L794.8 656.4L791.9 655.7L789 654.9L786.1 654.2L783.2 653.4L780.3 652.7L777.4 651.9L774.5 651.2L771.6 650.4L768.7 649.6L765.8 648.9L762.9 648.1L760 647.3L757.1 646.6L754.2 645.8L751.3 645L748.4 644.3L745.6 643.5L742.8 642.7L740 641.9L737.1 641L734.2 640.1L731.4 639.3L728.5 638.4L725.6 637.5L722.7 636.7L719.8 635.8z"/>
<g fill="none" stroke="#f00" stroke-width="2">
<circle cx="718" cy="640.6" r="3.9"/><circle cx="719" cy="642.6" r="3.9"/><circle cx="721.3" cy="642.5" r="3.9"/><circle cx="723.1" cy="641.3" r="3.9"/><circle cx="725.3" cy="643" r="3.9"/><circle cx="725.9" cy="644.4" r="3.9"/><circle cx="727.6" cy="644.8" r="3.9"/><circle cx="730.4" cy="646.2" r="3.9"/><circle cx="731.8" cy="647.6" r="3.9"/><circle cx="733" cy="648.7" r="3.9"/><circle cx="734.9" cy="645.8" r="3.9"/><circle cx="737.3" cy="647" r="3.9"/><circle cx="738.6" cy="647.5" r="3.9"/><circle cx="741.2" cy="646.8" r="3.9"/><circle cx="742" cy="647.7" r="3.9"/><circle cx="744.3" cy="647.6" r="3.9"/><circle cx="745.9" cy="649.2" r="3.9"/><circle cx="747" cy="650.8" r="3.9"/><circle cx="749.9" cy="649.7" r="3.9"/><circle cx="750.5" cy="649.8" r="3.9"/><circle cx="753.5" cy="650.7" r="3.9"/><circle cx="754.2" cy="652.6" r="3.9"/><circle cx="756.3" cy="654.8" r="3.9"/><circle cx="758.6" cy="652.5" r="3.9"/><circle cx="759.5" cy="654.3" r="3.9"/><circle cx="760.8" cy="653.8" r="3.9"/><circle cx="762.3" cy="655.3" r="3.9"/><circle cx="764.6" cy="657.3" r="3.9"/><circle cx="766.1" cy="657.6" r="3.9"/><circle cx="768.1" cy="654.1" r="3.9"/><circle cx="771.2" cy="655.2" r="3.9"/><circle cx="772.3" cy="656.3" r="3.9"/><circle cx="772.3" cy="659.4" r="3.9"/><circle cx="775.2" cy="657.7" r="3.9"/><circle cx="776.1" cy="659.9" r="3.9"/><circle cx="778.5" cy="659.6" r="3.9"/><circle cx="781.2" cy="657.9" r="3.9"/><circle cx="781.8" cy="660.5" r="3.9"/><circle cx="782.9" cy="661.4" r="3.9"/><circle cx="785.6" cy="662.9" r="3.9"/><circle cx="787.2" cy="659.3" r="3.9"/><circle cx="789.5" cy="662.1" r="3.9"/><circle cx="791" cy="663.1" r="3.9"/><circle cx="793.1" cy="661.5" r="3.9"/><circle cx="794" cy="663.1" r="3.9"/><circle cx="796.2" cy="661.6" r="3.9"/><circle cx="797.7" cy="664.5" r="3.9"/><circle cx="798.9" cy="665" r="3.9"/><circle cx="801.9" cy="662.8" r="3.9"/><circle cx="802.5" cy="666" r="3.9"/><circle cx="805.1" cy="666.6" r="3.9"/><circle cx="805.6" cy="668.1" r="3.9"/><circle cx="808.6" cy="665.5" r="3.9"/><circle cx="810.1" cy="669.1" r="3.9"/><circle cx="811.2" cy="666.8" r="3.9"/><circle cx="813.7" cy="669.5" r="3.9"/><circle cx="815.4" cy="669" r="3.9"/><circle cx="816.6" cy="668.9" r="3.9"/><circle cx="819.6" cy="667" r="3.9"/><circle cx="821.3" cy="667.7" r="3.9"/><circle cx="823.4" cy="667.3" r="3.9"/><circle cx="824.4" cy="669.3" r="3.9"/><circle cx="826.4" cy="668.3" r="3.9"/><circle cx="826.9" cy="672.6" r="3.9"/><circle cx="829.2" cy="670.5" r="3.9"/><circle cx="831.7" cy="671.6" r="3.9"/><circle cx="833.6" cy="672.4" r="3.9"/><circle cx="834.8" cy="673.7" r="3.9"/><circle cx="835.7" cy="672.6" r="3.9"/><circle cx="837.1" cy="674.9" r="3.9"/><circle cx="839.3" cy="675" r="3.9"/><circle cx="840.4" cy="675.6" r="3.9"/><circle cx="843.1" cy="674" r="3.9"/><circle cx="845.5" cy="675.2" r="3.9"/><circle cx="846" cy="677.9" r="3.9"/><circle cx="847.2" cy="678.4" r="3.9"/><circle cx="850.4" cy="678.1" r="3.9"/><circle cx="852.4" cy="675.8" r="3.9"/><circle cx="853.5" cy="679.7" r="3.9"/><circle cx="856.5" cy="677.4" r="3.9"/><circle cx="857.1" cy="678" r="3.9"/><circle cx="859.8" cy="678" r="3.9"/><circle cx="860.4" cy="679.5" r="3.9"/><circle cx="862.1" cy="683.8" r="3.9"/><circle cx="863.6" cy="679.7" r="3.9"/><circle cx="865.5" cy="684.6" r="3.9"/><circle cx="867.5" cy="681.8" r="3.9"/><circle cx="869.4" cy="682.2" r="3.9"/><circle cx="871.2" cy="683.4" r="3.9"/><circle cx="873.7" cy="681.8" r="3.9"/><circle cx="875.3" cy="682.8" r="3.9"/><circle cx="875.6" cy="685.3" r="3.9"/><circle cx="877.6" cy="683.8" r="3.9"/><circle cx="879.5" cy="686.8" r="3.9"/><circle cx="881.8" cy="686.1" r="3.9"/><circle cx="882.4" cy="688.6" r="3.9"/><circle cx="885.9" cy="684.7" r="3.9"/><circle cx="886.5" cy="688.3" r="3.9"/><circle cx="888.4" cy="688.9" r="3.9"/><circle cx="889.2" cy="689.6" r="3.9"/><circle cx="892.2" cy="686.4" r="3.9"/><circle cx="893.6" cy="687.3" r="3.9"/><circle cx="894.4" cy="690.9" r="3.9"/><circle cx="898" cy="688.5" r="3.9"/><circle cx="898.4" cy="691.1" r="3.9"/><circle cx="901.5" cy="688.9" r="3.9"/><circle cx="902.7" cy="691.8" r="3.9"/><circle cx="904.2" cy="692.5" r="3.9"/><circle cx="906.2" cy="690.8" r="3.9"/><circle cx="907.1" cy="692.6" r="3.9"/><circle cx="909.5" cy="690.4" r="3.9"/><circle cx="911.7" cy="692" r="3.9"/><circle cx="912.2" cy="694.6" r="3.9"/><circle cx="913.7" cy="694.8" r="3.9"/><circle cx="916.9" cy="693.3" r="3.9"/><circle cx="918.1" cy="696.2" r="3.9"/><circle cx="920.6" cy="693.9" r="3.9"/><circle cx="920.5" cy="697.5" r="3.9"/><circle cx="922.2" cy="697.6" r="3.9"/><circle cx="924.8" cy="698.7" r="3.9"/><circle cx="926.6" cy="696.4" r="3.9"/><circle cx="928.9" cy="695.5" r="3.9"/><circle cx="931.5" cy="696.6" r="3.9"/><circle cx="932.3" cy="699.4" r="3.9"/><circle cx="932.1" cy="701.8" r="3.9"/><circle cx="935.7" cy="700.3" r="3.9"/><circle cx="937.6" cy="699" r="3.9"/><circle cx="938.7" cy="701.8" r="3.9"/><circle cx="939.8" cy="703.3" r="3.9"/><circle cx="942" cy="704.5" r="3.9"/><circle cx="944.6" cy="701.3" r="3.9"/><circle cx="945.7" cy="704.1" r="3.9"/><circle cx="947.1" cy="705.7" r="3.9"/><circle cx="949.1" cy="704.4" r="3.9"/><circle cx="949.6" cy="706.9" r="3.9"/><circle cx="952.3" cy="705.9" r="3.9"/>
</g>
<g fill="#fff" stroke="#f00" stroke-width="2.1">
<circle cx="952.9" cy="708.4" r="4.2"/><circle cx="954.1" cy="705.4" r="4.2"/><circle cx="955.7" cy="708.3" r="4.2"/><circle cx="957.3" cy="706.3" r="4.2"/><circle cx="960.6" cy="710.7" r="4.2"/><circle cx="960.8" cy="709.3" r="4.2"/><circle cx="963.7" cy="709.2" r="4.2"/><circle cx="964.5" cy="711.8" r="4.2"/><circle cx="967.8" cy="711" r="4.2"/><circle cx="968.4" cy="711.4" r="4.2"/><circle cx="970.3" cy="714.5" r="4.2"/><circle cx="972.1" cy="712.1" r="4.2"/><circle cx="975.4" cy="712" r="4.2"/><circle cx="976" cy="712.3" r="4.2"/><circle cx="978.1" cy="715" r="4.2"/><circle cx="981.3" cy="714" r="4.2"/><circle cx="981.9" cy="717.2" r="4.2"/><circle cx="984.3" cy="715.9" r="4.2"/><circle cx="985.5" cy="716.3" r="4.2"/><circle cx="989" cy="716.6" r="4.2"/><circle cx="989.4" cy="720.2" r="4.2"/><circle cx="992.5" cy="721.7" r="4.2"/><circle cx="993.5" cy="722.8" r="4.2"/><circle cx="995.6" cy="720.7" r="4.2"/><circle cx="997.1" cy="723.4" r="4.2"/><circle cx="999.5" cy="721.7" r="4.2"/><circle cx="1000.2" cy="726.2" r="4.2"/><circle cx="1001.8" cy="726.5" r="4.2"/><circle cx="1004" cy="724.9" r="4.2"/><circle cx="1005.6" cy="726.8" r="4.2"/><circle cx="1008.9" cy="726.3" r="4.2"/><circle cx="1010.4" cy="728" r="4.2"/><circle cx="1008.4" cy="729.4" r="4.2"/><circle cx="1011.4" cy="731.3" r="4.2"/><circle cx="1013.2" cy="735.4" r="4.2"/><circle cx="1016.3" cy="738.4" r="4.2"/><circle cx="1013.3" cy="742" r="4.2"/><circle cx="1017.3" cy="745.5" r="4.2"/><circle cx="1020.7" cy="747.7" r="4.2"/><circle cx="1021.9" cy="751.5" r="4.2"/><circle cx="1020.8" cy="753.8" r="4.2"/><circle cx="1022.7" cy="757" r="4.2"/><circle cx="1023.6" cy="760" r="4.2"/><circle cx="1023.7" cy="764.7" r="4.2"/><circle cx="1025.5" cy="767.6" r="4.2"/><circle cx="1028.6" cy="771.2" r="4.2"/><circle cx="1027" cy="774.6" r="4.2"/><circle cx="1031.3" cy="777.8" r="4.2"/><circle cx="1032.6" cy="780.5" r="4.2"/><circle cx="1034.3" cy="782.9" r="4.2"/><circle cx="1034.1" cy="786.6" r="4.2"/><circle cx="1035.6" cy="789.7" r="4.2"/><circle cx="1035.5" cy="793.1" r="4.2"/><circle cx="1038.9" cy="795.9" r="4.2"/><circle cx="1040.6" cy="799.8" r="4.2"/><circle cx="1041.6" cy="802.1" r="4.2"/><circle cx="1042.7" cy="806.4" r="4.2"/><circle cx="1042.2" cy="809.7" r="4.2"/><circle cx="1040.2" cy="813.4" r="4.2"/><circle cx="1043.9" cy="816" r="4.2"/><circle cx="1044.2" cy="819.8" r="4.2"/><circle cx="1047.7" cy="823.1" r="4.2"/><circle cx="1046.3" cy="825.5" r="4.2"/><circle cx="1048" cy="828.2" r="4.2"/><circle cx="1050" cy="831.3" r="4.2"/><circle cx="1053.8" cy="834.7" r="4.2"/><circle cx="1051.9" cy="837.6" r="4.2"/><circle cx="1056.5" cy="841" r="4.2"/><circle cx="1056.3" cy="844.6" r="4.2"/><circle cx="1059.1" cy="848.8" r="4.2"/><circle cx="1057.9" cy="851.6" r="4.2"/><circle cx="1061.3" cy="854.8" r="4.2"/><circle cx="1061.8" cy="858.7" r="4.2"/>
</g>
</g>
<ellipse cx="413" cy="581.7" rx="23.3" ry="150.4" fill="none" stroke="#000" stroke-width="3"/>
<g id="axes" fill="#000">
<rect x="247" y="60" width="3" height="1131.5"/>
<rect x="247" y="1166" width="1586" height="4"/>
<rect x="225" y="60" width="24" height="4"/>
<rect x="225" y="281" width="24" height="4"/>
<rect x="225" y="502" width="24" height="4"/>
<rect x="225" y="724" width="24" height="4"/>
<rect x="225" y="945" width="24" height="4"/>
<rect x="500" y="1168" width="3" height="23.5"/>
<rect x="754" y="1168" width="3" height="23.5"/>
<rect x="1008" y="1168" width="3" height="23.5"/>
<rect x="1261" y="1168" width="3" height="23.5"/>
<rect x="1514" y="1168" width="3" height="23.5"/>
<rect x="1768" y="1168" width="3" height="23.5"/>
<path d="M220 1159.5L250 1168L220 1177z"/>
</g>
</g>
<g id="labels" fill="#000" font-size="78">
<text transform="translate(211.3 82.3) scale(0.985 1)" text-anchor="end">2.5</text>
<text transform="translate(213.3 303.5) scale(0.985 1)" text-anchor="end">2.0</text>
<text transform="translate(211.3 524.7) scale(0.95 1)" text-anchor="end">1.5</text>
<text transform="translate(213.3 745.9) scale(0.95 1)" text-anchor="end">1.0</text>
<text transform="translate(211.3 967.1) scale(0.985 1)" text-anchor="end">0.5</text>
<text transform="translate(213.3 1188.3) scale(0.985 1)" text-anchor="end">0.0</text>
<text transform="translate(249 1262) scale(1 1)" text-anchor="middle">0</text>
<text transform="translate(502.5 1262) scale(1 1)" text-anchor="middle">20</text>
<text transform="translate(756 1262) scale(1 1)" text-anchor="middle">40</text>
<text transform="translate(1009.5 1262) scale(1 1)" text-anchor="middle">60</text>
<text transform="translate(1263 1262) scale(1 1)" text-anchor="middle">80</text>
<text transform="translate(1516.5 1262) scale(0.972 1)" text-anchor="middle">100</text>
<text transform="translate(1770 1262) scale(0.972 1)" text-anchor="middle">120</text>
<text transform="translate(70 691.3) rotate(-90) scale(0.985 1)" x="0" y="0">U, kV</text>
<text transform="translate(993 1368) scale(0.99 1)" font-size="67.5">I, mA</text>
<text transform="translate(1023.3 298) scale(1.008 1)">P = 40 Torr</text>
<text x="457.5" y="218.5" font-size="67.5">Ar</text>
<text transform="translate(312.5 788) scale(0.985 1)" font-size="67.5">Ar:N<tspan font-size="39" dy="22.3" dx="-1">2</tspan></text>
<text transform="translate(1402.3 694) scale(0.966 1)" font-size="67.5" fill="#800080">1% N<tspan font-size="39" dy="20.3" dx="-1">2</tspan></text>
<text transform="translate(1538.2 990.5) rotate(4.7) scale(0.992 1)" font-size="67.5" fill="#00f">0.075% N<tspan font-size="39" dy="20.5" dx="-1">2</tspan></text>
<text transform="translate(680.5 567.5) rotate(22) scale(0.99 1)" font-size="67.5" fill="#f00" font-style="italic">0.02% N<tspan font-size="39" dy="20.5">2</tspan></text>
</g>
</svg></body></html>
